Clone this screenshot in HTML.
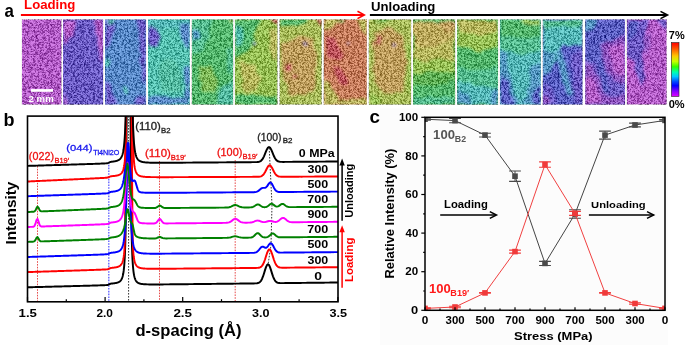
<!DOCTYPE html>
<html><head><meta charset="utf-8"><style>html,body{margin:0;padding:0;background:#fff;width:685px;height:345px;overflow:hidden}</style></head>
<body><svg xmlns="http://www.w3.org/2000/svg" width="685" height="345" viewBox="0 0 685 345" style="display:block">
<defs>
<filter id="blr" x="-20%" y="-20%" width="140%" height="140%"><feTurbulence type="fractalNoise" baseFrequency="0.12" numOctaves="2" seed="3" result="t"/><feDisplacementMap in="SourceGraphic" in2="t" scale="6" xChannelSelector="R" yChannelSelector="G"/><feGaussianBlur stdDeviation="1.8"/></filter>
<filter id="spk" x="0" y="0" width="685" height="120" filterUnits="userSpaceOnUse" color-interpolation-filters="sRGB">
 <feTurbulence type="fractalNoise" baseFrequency="0.45" numOctaves="2" seed="3" result="a"/>
 <feColorMatrix in="a" type="matrix" values="2.2 0 0 0 -0.25  2.2 0 0 0 -0.25  2.2 0 0 0 -0.25  0 0 0 0 1" result="g1"/>
 <feTurbulence type="fractalNoise" baseFrequency="1.3" numOctaves="1" seed="9" result="c"/>
 <feColorMatrix in="c" type="matrix" values="7.0 0 0 0 -2.4  7.0 0 0 0 -2.4  7.0 0 0 0 -2.4  0 0 0 0 1" result="g2"/>
 <feComponentTransfer in="g2" result="g2b"><feFuncR type="linear" slope="0.6" intercept="0.4"/><feFuncG type="linear" slope="0.6" intercept="0.4"/><feFuncB type="linear" slope="0.6" intercept="0.4"/></feComponentTransfer>
 <feComposite in="g1" in2="g2b" operator="arithmetic" k1="1" k2="0" k3="0" k4="0"/>
 <feComponentTransfer><feFuncR type="linear" slope="0.85"/><feFuncG type="linear" slope="0.85"/><feFuncB type="linear" slope="0.85"/><feFuncA type="linear" slope="0" intercept="1"/></feComponentTransfer>
</filter>
<linearGradient id="cbar" x1="0" y1="0" x2="0" y2="1">
 <stop offset="0" stop-color="#ff0000"/><stop offset="0.12" stop-color="#ff5a00"/><stop offset="0.25" stop-color="#ffc800"/>
 <stop offset="0.35" stop-color="#c8ff00"/><stop offset="0.45" stop-color="#30ff00"/><stop offset="0.55" stop-color="#00ffb0"/>
 <stop offset="0.63" stop-color="#00c8ff"/><stop offset="0.72" stop-color="#0050ff"/><stop offset="0.8" stop-color="#0000ff"/>
 <stop offset="0.9" stop-color="#8000ff"/><stop offset="1" stop-color="#e000ff"/>
</linearGradient>
</defs>
<rect x="0" y="0" width="685" height="345" fill="#fff"/>
<rect x="380" y="108.3" width="288" height="237" fill="#fcfcfc"/>
<defs><clipPath id="pc0"><rect x="21.9" y="19.3" width="39.7" height="85.4"/></clipPath><clipPath id="pc1"><rect x="63.0" y="19.3" width="40.2" height="85.4"/></clipPath><clipPath id="pc2"><rect x="105.0" y="19.3" width="41.1" height="85.4"/></clipPath><clipPath id="pc3"><rect x="148.0" y="19.3" width="41.9" height="85.4"/></clipPath><clipPath id="pc4"><rect x="191.7" y="19.3" width="41.5" height="85.4"/></clipPath><clipPath id="pc5"><rect x="234.9" y="19.3" width="42.7" height="85.4"/></clipPath><clipPath id="pc6"><rect x="279.4" y="19.3" width="42.4" height="85.4"/></clipPath><clipPath id="pc7"><rect x="323.6" y="19.3" width="43.3" height="85.4"/></clipPath><clipPath id="pc8"><rect x="368.7" y="19.3" width="42.5" height="85.4"/></clipPath><clipPath id="pc9"><rect x="413.0" y="19.3" width="42.2" height="85.4"/></clipPath><clipPath id="pc10"><rect x="457.0" y="19.3" width="41.1" height="85.4"/></clipPath><clipPath id="pc11"><rect x="499.9" y="19.3" width="41.0" height="85.4"/></clipPath><clipPath id="pc12"><rect x="542.6" y="19.3" width="40.1" height="85.4"/></clipPath><clipPath id="pc13"><rect x="585.1" y="19.3" width="40.0" height="85.4"/></clipPath><clipPath id="pc14"><rect x="626.8" y="19.3" width="40.0" height="85.4"/></clipPath><clipPath id="pall"><rect x="21.9" y="19.3" width="39.7" height="85.4"/><rect x="63.0" y="19.3" width="40.2" height="85.4"/><rect x="105.0" y="19.3" width="41.1" height="85.4"/><rect x="148.0" y="19.3" width="41.9" height="85.4"/><rect x="191.7" y="19.3" width="41.5" height="85.4"/><rect x="234.9" y="19.3" width="42.7" height="85.4"/><rect x="279.4" y="19.3" width="42.4" height="85.4"/><rect x="323.6" y="19.3" width="43.3" height="85.4"/><rect x="368.7" y="19.3" width="42.5" height="85.4"/><rect x="413.0" y="19.3" width="42.2" height="85.4"/><rect x="457.0" y="19.3" width="41.1" height="85.4"/><rect x="499.9" y="19.3" width="41.0" height="85.4"/><rect x="542.6" y="19.3" width="40.1" height="85.4"/><rect x="585.1" y="19.3" width="40.0" height="85.4"/><rect x="626.8" y="19.3" width="40.0" height="85.4"/></clipPath></defs>
<g clip-path="url(#pall)"><rect x="0" y="0" width="685" height="120" fill="#000" filter="url(#spk)"/><g opacity="0.45">
<g clip-path="url(#pc0)"><rect x="21.9" y="19.3" width="39.7" height="85.4" fill="#cf12fb"/></g>
<g clip-path="url(#pc1)"><rect x="63.0" y="19.3" width="40.2" height="85.4" fill="#3410f6"/><g filter="url(#blr)"><polygon points="63.0,19.3 75.9,19.3 75.1,27.8 71.8,36.4 67.0,42.4 63.0,44.9" fill="#cf12fb"/><polygon points="93.2,19.3 103.2,19.3 103.2,60.3 99.2,57.7 97.6,36.4 95.2,26.1" fill="#cf12fb"/><polygon points="63.0,94.5 67.0,100.4 67.8,104.7 63.0,104.7" fill="#cf12fb"/></g></g>
<g clip-path="url(#pc2)"><rect x="105.0" y="19.3" width="41.1" height="85.4" fill="#0771fb"/><g filter="url(#blr)"><polygon points="105.0,19.3 115.3,19.3 114.0,32.1 109.9,44.9 105.0,49.2" fill="#3410f6"/><polygon points="137.1,19.3 146.1,19.3 146.1,85.9 142.8,79.1 139.9,53.5 138.7,32.1" fill="#3410f6"/><polygon points="105.0,80.8 109.9,83.4 113.2,91.9 117.3,104.7 105.0,104.7" fill="#3410f6"/><polygon points="135.8,97.9 146.1,94.5 146.1,104.7 133.8,104.7" fill="#3410f6"/><polygon points="105.8,57.7 109.9,60.3 109.1,67.1 105.8,66.3" fill="#00e9c6"/><polygon points="123.5,87.6 127.6,87.6 128.0,92.7 123.9,93.6" fill="#00e9c6"/><polygon points="108.3,19.3 114.0,19.3 113.2,24.4 109.1,24.4" fill="#00e9c6"/></g></g>
<g clip-path="url(#pc3)"><rect x="148.0" y="19.3" width="41.9" height="85.4" fill="#00e9c6"/><g filter="url(#blr)"><polygon points="148.0,19.3 189.9,19.3 189.9,27.8 148.0,29.5" fill="#00d8d8"/><polygon points="148.0,26.1 156.4,27.8 160.6,36.4 158.5,44.9 148.0,46.6" fill="#3410f6"/><polygon points="179.4,23.6 189.9,23.6 189.9,49.2 183.6,44.9" fill="#0771fb"/><polygon points="160.6,57.7 179.4,62.0 181.5,91.9 162.7,91.9 158.5,70.5" fill="#00e0a8"/><polygon points="183.6,66.3 189.9,66.3 189.9,97.9 185.7,96.2" fill="#0771fb"/><polygon points="148.0,96.2 189.9,97.9 189.9,104.7 148.0,104.7" fill="#0771fb"/></g></g>
<g clip-path="url(#pc4)"><rect x="191.7" y="19.3" width="41.5" height="85.4" fill="#00d838"/><g filter="url(#blr)"><polygon points="191.7,19.3 212.4,19.3 208.3,36.4 204.1,49.2 191.7,53.5" fill="#00e182"/><polygon points="191.7,29.5 199.2,30.4 200.0,38.1 191.7,40.7" fill="#0090f0"/><polygon points="197.9,66.3 212.4,66.3 217.4,83.4 214.5,92.7 202.1,91.9" fill="#60e010"/><polygon points="227.0,49.2 233.2,47.5 233.2,74.8 228.2,72.2" fill="#00e182"/><polygon points="220.8,87.6 233.2,80.8 233.2,104.7 216.6,104.7" fill="#00e0a8"/><polygon points="227.0,19.3 233.2,19.3 233.2,24.4" fill="#d8d814"/></g></g>
<g clip-path="url(#pc5)"><rect x="234.9" y="19.3" width="42.7" height="85.4" fill="#90e902"/><g filter="url(#blr)"><polygon points="234.9,19.3 260.5,19.3 254.1,36.4 249.8,49.2 234.9,57.7" fill="#00d838"/><polygon points="234.9,23.6 243.4,27.8 241.3,44.9 234.9,44.9" fill="#00e9c6"/><polygon points="239.2,62.0 254.1,63.7 260.5,79.1 256.2,91.9 243.4,91.9" fill="#d8d814"/><polygon points="269.1,27.8 277.6,27.8 277.6,62.0 271.2,57.7" fill="#d8d814"/><polygon points="271.2,19.3 277.6,19.3 277.6,25.3" fill="#e90014"/><polygon points="234.9,94.5 277.6,96.2 277.6,104.7 234.9,104.7" fill="#00d838"/><polygon points="253.3,41.5 255.8,41.5 255.8,44.9 253.3,44.9" fill="#0814f0"/></g></g>
<g clip-path="url(#pc6)"><rect x="279.4" y="19.3" width="42.4" height="85.4" fill="#b4e00c"/><g filter="url(#blr)"><polygon points="279.4,19.3 309.1,19.3 300.6,24.4 279.4,26.1" fill="#00d838"/><polygon points="281.9,43.2 298.5,36.4 313.3,38.1 316.7,57.7 315.4,87.6 304.8,96.2 290.0,94.5 281.9,70.5" fill="#e9a214"/><polygon points="285.8,63.7 292.1,64.6 291.3,70.5 285.8,70.5" fill="#e90014"/><polygon points="293.0,73.1 298.5,74.8 296.4,79.1 292.1,77.4" fill="#e90014"/><polygon points="316.7,19.3 321.8,19.3 321.8,27.8" fill="#e90014"/><polygon points="302.7,42.4 304.8,42.4 304.8,45.8 302.7,45.8" fill="#0814f0"/></g></g>
<g clip-path="url(#pc7)"><rect x="323.6" y="19.3" width="43.3" height="85.4" fill="#fb5b14"/><g filter="url(#blr)"><polygon points="325.8,36.4 334.4,38.1 343.1,55.2 340.9,60.3 327.9,57.7" fill="#e90014"/><polygon points="332.3,66.3 338.8,66.3 347.4,77.4 347.4,84.2 338.8,83.4 333.1,72.2" fill="#e90014"/><polygon points="323.6,19.3 340.9,19.3 332.3,26.1 323.6,29.5" fill="#d8d814"/><polygon points="332.3,19.3 345.2,19.3 340.9,21.9" fill="#14c600"/><polygon points="356.1,19.3 366.9,19.3 366.9,36.4" fill="#d8d814"/><polygon points="323.6,79.1 330.1,83.4 338.8,97.9 336.6,104.7 323.6,104.7" fill="#d8d814"/><polygon points="336.6,100.4 366.9,98.7 366.9,104.7 336.6,104.7" fill="#d8d814"/><polygon points="347.4,42.4 349.6,42.4 349.6,45.8 347.4,45.8" fill="#0814f0"/></g></g>
<g clip-path="url(#pc8)"><rect x="368.7" y="19.3" width="42.5" height="85.4" fill="#b4e00c"/><g filter="url(#blr)"><polygon points="373.8,32.1 389.9,27.8 402.7,36.4 406.9,62.0 402.7,91.9 385.7,94.5 375.1,83.4 372.9,53.5" fill="#e9a214"/><polygon points="375.1,34.7 381.4,36.4 380.6,44.9 375.1,44.9" fill="#e90014"/><polygon points="406.9,44.9 411.2,44.9 411.2,96.2 407.8,91.9" fill="#90e902"/><polygon points="368.7,91.9 381.4,97.9 381.4,104.7 368.7,104.7" fill="#90e902"/><polygon points="368.7,19.3 394.2,19.3 385.7,21.9" fill="#14c600"/><polygon points="392.1,42.4 394.2,42.4 394.2,45.8 392.1,45.8" fill="#0814f0"/></g></g>
<g clip-path="url(#pc9)"><rect x="413.0" y="19.3" width="42.2" height="85.4" fill="#14c600"/><g filter="url(#blr)"><polygon points="413.0,21.9 455.2,21.9 455.2,62.0 438.3,57.7 425.7,62.0 413.0,57.7" fill="#d8d814"/><polygon points="413.0,21.9 455.2,21.9 455.2,38.1 438.3,44.9 425.7,47.5 413.0,44.9" fill="#e4bc14"/><polygon points="436.2,21.9 455.2,21.9 455.2,29.5 444.6,32.1" fill="#e9a214"/><polygon points="448.9,21.0 455.2,21.0 455.2,26.1" fill="#e90014"/><polygon points="413.0,19.3 455.2,19.3 455.2,21.9 413.0,21.9" fill="#00d838"/><polygon points="413.0,57.7 425.7,62.0 438.3,57.7 455.2,62.0 455.2,72.2 434.1,70.5 413.0,74.8" fill="#90e902"/><polygon points="413.0,83.4 429.9,87.6 455.2,80.8 455.2,96.2 413.0,100.4" fill="#00d838"/><polygon points="413.0,97.9 455.2,96.2 455.2,104.7 413.0,104.7" fill="#00e182"/></g></g>
<g clip-path="url(#pc10)"><rect x="457.0" y="19.3" width="41.1" height="85.4" fill="#00d838"/><g filter="url(#blr)"><polygon points="457.0,19.3 498.1,19.3 498.1,46.6 477.6,51.8 457.0,44.9" fill="#90e902"/><polygon points="457.0,21.0 498.1,21.0 498.1,32.1 477.6,34.7 457.0,31.3" fill="#d8d814"/><polygon points="457.0,19.3 498.1,19.3 498.1,21.0 457.0,21.0" fill="#14c600"/><polygon points="457.0,66.3 477.6,70.5 498.1,66.3 498.1,91.9 457.0,91.9" fill="#00e182"/><polygon points="457.0,80.8 477.6,85.9 494.0,87.6 498.1,91.9 498.1,104.7 457.0,104.7" fill="#00d8d8"/><polygon points="457.0,89.3 467.3,94.5 473.4,104.7 457.0,104.7" fill="#0090f0"/><polygon points="491.9,91.9 498.1,87.6 498.1,104.7 489.9,104.7" fill="#0090f0"/></g></g>
<g clip-path="url(#pc11)"><rect x="499.9" y="19.3" width="41.0" height="85.4" fill="#00d8d8"/><g filter="url(#blr)"><polygon points="499.9,19.3 540.9,19.3 540.9,40.7 524.5,44.9 512.2,43.2 499.9,40.7" fill="#00d838"/><polygon points="520.4,19.3 540.9,19.3 540.9,24.4 524.5,23.6" fill="#90e902"/><polygon points="499.9,36.4 540.9,38.1 540.9,51.8 520.4,53.5 499.9,49.2" fill="#00e182"/><polygon points="499.9,49.2 506.0,53.5 508.1,70.5 514.2,91.9 520.4,104.7 499.9,104.7" fill="#0090f0"/><polygon points="499.9,72.2 508.1,79.1 512.2,96.2 516.3,104.7 499.9,104.7" fill="#0814f0"/><polygon points="530.6,66.3 540.9,62.0 540.9,104.7 522.4,104.7 528.6,87.6" fill="#0090f0"/><polygon points="534.8,87.6 540.9,83.4 540.9,104.7 530.6,104.7" fill="#0814f0"/></g></g>
<g clip-path="url(#pc12)"><rect x="542.6" y="19.3" width="40.1" height="85.4" fill="#0814f0"/><g filter="url(#blr)"><polygon points="542.6,19.3 582.7,19.3 582.7,44.9 570.7,46.6 562.7,44.9 556.6,57.7 550.6,70.5 542.6,72.2" fill="#00d8d8"/><polygon points="542.6,19.3 582.7,19.3 582.7,26.1 542.6,27.8" fill="#00e182"/><polygon points="542.6,49.2 554.6,53.5 550.6,72.2 542.6,77.4" fill="#0090f0"/><polygon points="555.4,51.8 562.7,49.2 566.7,70.5 572.7,91.9 567.5,96.2 560.6,74.8" fill="#0090f0"/><polygon points="570.7,53.5 582.7,49.2 582.7,104.7 574.7,104.7 572.7,79.1" fill="#3410f6"/><polygon points="542.6,83.4 552.6,87.6 556.6,104.7 542.6,104.7" fill="#3410f6"/><polygon points="542.6,96.2 548.6,97.9 550.6,104.7 542.6,104.7" fill="#7f00e9"/></g></g>
<g clip-path="url(#pc13)"><rect x="585.1" y="19.3" width="40.0" height="85.4" fill="#3410f6"/><g filter="url(#blr)"><polygon points="585.1,19.3 625.1,19.3 625.1,36.4 609.1,40.7 599.1,62.0 585.1,62.0" fill="#0814f0"/><polygon points="585.1,19.3 597.1,19.3 593.1,27.8 585.1,32.1" fill="#0090f0"/><polygon points="601.1,43.2 613.1,40.7 625.1,36.4 625.1,83.4 613.1,80.8 605.1,66.3" fill="#7f00e9"/><polygon points="609.1,46.6 625.1,44.9 625.1,74.8 615.1,72.2" fill="#cf12fb"/><polygon points="585.1,62.0 593.1,66.3 599.1,79.1 607.1,96.2 617.1,96.2 625.1,91.9 625.1,104.7 585.1,104.7" fill="#7f00e9"/><polygon points="585.1,74.8 593.1,79.1 601.1,100.4 585.1,104.7" fill="#cf12fb"/><polygon points="595.1,49.2 601.1,49.2 605.1,70.5 609.1,91.9 603.1,94.5 597.1,66.3" fill="#0814f0"/></g></g>
<g clip-path="url(#pc14)"><rect x="626.8" y="19.3" width="40.0" height="85.4" fill="#cf12fb"/><g filter="url(#blr)"><polygon points="626.8,19.3 648.8,19.3 644.8,40.7 642.0,57.7 644.8,79.1 640.8,85.9 634.8,62.0 626.8,57.7" fill="#3410f6"/><polygon points="626.8,19.3 638.8,19.3 634.8,36.4 626.8,40.7" fill="#0814f0"/><polygon points="644.8,36.4 650.8,32.1 648.8,53.5 644.8,57.7" fill="#7f00e9"/><polygon points="654.8,19.3 666.8,19.3 666.8,29.5" fill="#3410f6"/></g></g>
</g></g>
<rect x="31" y="89.1" width="22" height="2.7" fill="#fff"/>
<line x1="20.9" y1="14.9" x2="364" y2="14.9" stroke="#ff0000" stroke-width="2"/>
<polyline points="357.5,11.2 364.3,14.9 357.5,18.6" fill="none" stroke="#ff0000" stroke-width="1.6"/>
<line x1="369.9" y1="14.9" x2="667" y2="14.9" stroke="#000" stroke-width="2"/>
<polyline points="660.5,11.4 667.5,15 660.5,18.6" fill="none" stroke="#000" stroke-width="1.6"/>
<rect x="671.4" y="42.6" width="7.6" height="53.8" fill="url(#cbar)" stroke="#222" stroke-width="0.6"/>
<defs><clipPath id="bclip"><rect x="27.5" y="116.1" width="310.5" height="185.7"/></clipPath></defs>
<g clip-path="url(#bclip)">
<line x1="37.5" y1="166" x2="37.5" y2="301" stroke="#e02020" stroke-width="0.8" stroke-dasharray="1.6,1.2"/>
<line x1="108.8" y1="162" x2="108.8" y2="301" stroke="#5a5aff" stroke-width="1.3" stroke-dasharray="1.6,1.2"/>
<line x1="159.5" y1="161" x2="159.5" y2="301" stroke="#e02020" stroke-width="0.8" stroke-dasharray="1.6,1.2"/>
<line x1="235.2" y1="160" x2="235.2" y2="301" stroke="#e02020" stroke-width="0.8" stroke-dasharray="1.6,1.2"/>
<line x1="128.6" y1="116" x2="128.6" y2="301" stroke="#000" stroke-width="0.8" stroke-dasharray="1.6,1.4"/>
<polyline points="269.2,148 272,205 271,245 268,265" fill="none" stroke="#000" stroke-width="0.8" stroke-dasharray="1.6,1.4"/>
<path d="M27.50,287.30 L28.50,287.27 L29.50,287.25 L30.50,287.22 L31.50,287.19 L32.50,287.17 L33.50,287.14 L34.50,287.12 L35.50,287.09 L36.50,287.06 L37.50,287.04 L38.50,287.01 L39.50,286.98 L40.50,286.96 L41.50,286.93 L42.50,286.91 L43.50,286.88 L44.50,286.85 L45.50,286.83 L46.50,286.80 L47.50,286.78 L48.50,286.75 L49.50,286.72 L50.50,286.70 L51.50,286.67 L52.50,286.64 L53.50,286.62 L54.50,286.59 L55.50,286.57 L56.50,286.54 L57.50,286.51 L58.50,286.49 L59.50,286.46 L60.50,286.43 L61.50,286.41 L62.50,286.38 L63.50,286.36 L64.50,286.33 L65.50,286.30 L66.50,286.28 L67.50,286.25 L68.50,286.22 L69.50,286.20 L70.50,286.17 L71.50,286.14 L72.50,286.12 L73.50,286.09 L74.50,286.06 L75.50,286.04 L76.50,286.01 L77.50,285.98 L78.50,285.96 L79.50,285.93 L80.50,285.90 L81.50,285.88 L82.50,285.85 L83.50,285.82 L84.50,285.79 L85.50,285.77 L86.50,285.74 L87.50,285.71 L88.50,285.68 L89.50,285.66 L90.50,285.63 L91.50,285.60 L92.50,285.57 L93.50,285.54 L94.50,285.51 L95.50,285.48 L96.50,285.45 L97.50,285.42 L98.50,285.39 L99.50,285.36 L100.50,285.32 L101.50,285.29 L102.50,285.25 L103.50,285.22 L104.50,285.18 L105.50,285.13 L106.50,285.06 L107.50,284.94 L108.50,284.65 L109.50,284.16 L110.50,283.77 L110.75,283.70 L111.00,283.65 L111.25,283.61 L111.50,283.57 L111.75,283.54 L112.00,283.51 L112.25,283.49 L112.50,283.46 L112.75,283.43 L113.00,283.41 L113.25,283.38 L113.50,283.35 L113.75,283.33 L114.00,283.30 L114.25,283.26 L114.50,283.23 L114.75,283.20 L115.00,283.16 L115.25,283.12 L115.50,283.08 L115.75,283.03 L116.00,282.98 L116.25,282.93 L116.50,282.87 L116.75,282.81 L117.00,282.74 L117.25,282.67 L117.50,282.59 L117.75,282.51 L118.00,282.41 L118.25,282.31 L118.50,282.20 L118.75,282.07 L119.00,281.94 L119.25,281.79 L119.50,281.62 L119.75,281.44 L120.00,281.23 L120.25,281.00 L120.50,280.74 L120.75,280.45 L121.00,280.11 L121.25,279.74 L121.50,279.30 L121.75,278.81 L122.00,278.24 L122.25,277.58 L122.50,276.81 L122.75,275.90 L123.00,274.83 L123.25,273.56 L123.50,272.04 L123.75,270.20 L124.00,267.95 L124.25,265.18 L124.50,261.73 L124.75,257.37 L125.00,251.79 L125.25,244.56 L125.50,235.00 L125.75,222.12 L126.00,204.42 L126.25,179.47 L126.50,143.36 L126.75,100.00 L127.00,100.00 L127.25,100.00 L127.50,100.00 L127.75,100.00 L128.00,100.00 L128.25,100.00 L128.50,100.00 L128.75,100.00 L129.00,100.00 L129.25,100.00 L129.50,100.00 L129.75,100.00 L130.00,100.00 L130.25,100.00 L130.50,102.76 L130.75,152.42 L131.00,185.93 L131.25,209.21 L131.50,225.83 L131.75,237.97 L132.00,247.03 L132.25,253.91 L132.50,259.23 L132.75,263.40 L133.00,266.72 L133.25,269.39 L133.50,271.56 L133.75,273.34 L134.00,274.82 L134.25,276.05 L134.50,277.09 L134.75,277.97 L135.00,278.72 L135.25,279.36 L135.50,279.92 L135.75,280.40 L136.00,280.82 L136.25,281.18 L136.50,281.50 L136.75,281.79 L137.00,282.04 L137.25,282.26 L137.50,282.46 L137.75,282.64 L138.00,282.80 L138.25,282.94 L138.50,283.07 L138.75,283.18 L139.00,283.29 L139.25,283.38 L139.50,283.47 L139.75,283.54 L140.00,283.61 L140.25,283.68 L140.50,283.74 L140.75,283.80 L141.00,283.85 L141.25,283.89 L141.50,283.93 L141.75,283.97 L142.00,284.01 L142.25,284.04 L142.50,284.07 L142.75,284.10 L143.00,284.13 L143.25,284.15 L143.50,284.18 L143.75,284.20 L144.00,284.22 L144.25,284.23 L144.50,284.25 L144.75,284.27 L145.00,284.28 L146.00,284.33 L147.00,284.37 L148.00,284.39 L149.00,284.41 L150.00,284.43 L151.00,284.44 L152.00,284.44 L153.00,284.45 L154.00,284.45 L155.00,284.45 L156.00,284.44 L157.00,284.44 L158.00,284.44 L159.00,284.43 L160.00,284.43 L161.00,284.42 L162.00,284.41 L163.00,284.41 L164.00,284.40 L165.00,284.39 L166.00,284.38 L167.00,284.37 L168.00,284.36 L169.00,284.35 L170.00,284.34 L171.00,284.33 L172.00,284.32 L173.00,284.32 L174.00,284.31 L175.00,284.30 L176.00,284.28 L177.00,284.27 L178.00,284.26 L179.00,284.25 L180.00,284.24 L181.00,284.23 L182.00,284.22 L183.00,284.21 L184.00,284.20 L185.00,284.19 L186.00,284.18 L187.00,284.17 L188.00,284.16 L189.00,284.15 L190.00,284.14 L191.00,284.13 L192.00,284.12 L193.00,284.11 L194.00,284.09 L195.00,284.08 L196.00,284.07 L197.00,284.06 L198.00,284.05 L199.00,284.04 L200.00,284.03 L201.00,284.02 L202.00,284.01 L203.00,284.00 L204.00,283.99 L205.00,283.97 L206.00,283.96 L207.00,283.95 L208.00,283.94 L209.00,283.93 L210.00,283.92 L211.00,283.91 L212.00,283.90 L213.00,283.89 L214.00,283.88 L215.00,283.86 L216.00,283.85 L217.00,283.84 L218.00,283.83 L219.00,283.82 L220.00,283.81 L221.00,283.80 L222.00,283.79 L223.00,283.78 L224.00,283.76 L225.00,283.75 L226.00,283.74 L227.00,283.73 L228.00,283.72 L229.00,283.71 L230.00,283.70 L231.00,283.69 L232.00,283.68 L233.00,283.67 L234.00,283.65 L235.00,283.64 L236.00,283.63 L237.00,283.62 L238.00,283.61 L239.00,283.60 L240.00,283.59 L241.00,283.58 L242.00,283.57 L243.00,283.55 L244.00,283.54 L245.00,283.53 L246.00,283.52 L247.00,283.51 L248.00,283.50 L249.00,283.49 L250.00,283.48 L251.00,283.47 L252.00,283.45 L253.00,283.44 L254.00,283.43 L255.00,283.40 L256.00,283.36 L257.00,283.26 L258.00,283.07 L259.00,282.68 L260.00,281.97 L261.00,280.78 L262.00,278.97 L263.00,276.48 L264.00,273.43 L265.00,270.15 L266.00,267.16 L267.00,265.05 L268.00,264.28 L269.00,265.03 L270.00,267.12 L271.00,270.09 L272.00,273.34 L273.00,276.37 L274.00,278.84 L275.00,280.63 L276.00,281.79 L277.00,282.48 L278.00,282.85 L279.00,283.02 L280.00,283.09 L281.00,283.11 L282.00,283.12 L283.00,283.11 L284.00,283.10 L285.00,283.09 L286.00,283.08 L287.00,283.07 L288.00,283.06 L289.00,283.04 L290.00,283.03 L291.00,283.02 L292.00,283.01 L293.00,283.00 L294.00,282.99 L295.00,282.98 L296.00,282.97 L297.00,282.96 L298.00,282.94 L299.00,282.93 L300.00,282.92 L301.00,282.91 L302.00,282.90 L303.00,282.89 L304.00,282.88 L305.00,282.87 L306.00,282.86 L307.00,282.84 L308.00,282.83 L309.00,282.82 L310.00,282.81 L311.00,282.80 L312.00,282.79 L313.00,282.78 L314.00,282.77 L315.00,282.76 L316.00,282.74 L317.00,282.73 L318.00,282.72 L319.00,282.71 L320.00,282.70 L321.00,282.69 L322.00,282.68 L323.00,282.67 L324.00,282.66 L325.00,282.64 L326.00,282.63 L327.00,282.62 L328.00,282.61 L329.00,282.60 L330.00,282.59 L331.00,282.58 L332.00,282.57 L333.00,282.56 L334.00,282.54 L335.00,282.53 L336.00,282.52 L337.00,282.51 L338.00,282.50" fill="none" stroke="#000" stroke-width="1.95" stroke-linejoin="round"/>
<path d="M27.50,272.10 L28.50,272.07 L29.50,272.03 L30.50,272.00 L31.50,271.97 L32.50,271.94 L33.50,271.90 L34.50,271.87 L35.50,271.84 L36.50,271.81 L37.50,271.77 L38.50,271.74 L39.50,271.71 L40.50,271.68 L41.50,271.65 L42.50,271.61 L43.50,271.58 L44.50,271.55 L45.50,271.52 L46.50,271.48 L47.50,271.45 L48.50,271.42 L49.50,271.39 L50.50,271.35 L51.50,271.32 L52.50,271.29 L53.50,271.26 L54.50,271.22 L55.50,271.19 L56.50,271.16 L57.50,271.13 L58.50,271.09 L59.50,271.06 L60.50,271.03 L61.50,271.00 L62.50,270.96 L63.50,270.93 L64.50,270.90 L65.50,270.87 L66.50,270.83 L67.50,270.80 L68.50,270.77 L69.50,270.74 L70.50,270.70 L71.50,270.67 L72.50,270.64 L73.50,270.60 L74.50,270.57 L75.50,270.54 L76.50,270.51 L77.50,270.47 L78.50,270.44 L79.50,270.41 L80.50,270.37 L81.50,270.34 L82.50,270.31 L83.50,270.27 L84.50,270.24 L85.50,270.21 L86.50,270.17 L87.50,270.14 L88.50,270.11 L89.50,270.07 L90.50,270.04 L91.50,270.00 L92.50,269.97 L93.50,269.93 L94.50,269.90 L95.50,269.86 L96.50,269.82 L97.50,269.79 L98.50,269.75 L99.50,269.71 L100.50,269.67 L101.50,269.63 L102.50,269.59 L103.50,269.55 L104.50,269.50 L105.50,269.45 L106.50,269.38 L107.50,269.25 L108.50,268.95 L109.50,268.47 L110.50,268.08 L110.75,268.01 L111.00,267.96 L111.25,267.92 L111.50,267.89 L111.75,267.85 L112.00,267.83 L112.25,267.80 L112.50,267.77 L112.75,267.75 L113.00,267.73 L113.25,267.70 L113.50,267.67 L113.75,267.65 L114.00,267.62 L114.25,267.59 L114.50,267.56 L114.75,267.52 L115.00,267.49 L115.25,267.45 L115.50,267.41 L115.75,267.37 L116.00,267.32 L116.25,267.27 L116.50,267.22 L116.75,267.16 L117.00,267.10 L117.25,267.03 L117.50,266.96 L117.75,266.88 L118.00,266.80 L118.25,266.70 L118.50,266.60 L118.75,266.49 L119.00,266.36 L119.25,266.23 L119.50,266.08 L119.75,265.91 L120.00,265.73 L120.25,265.52 L120.50,265.29 L120.75,265.03 L121.00,264.74 L121.25,264.41 L121.50,264.03 L121.75,263.60 L122.00,263.11 L122.25,262.55 L122.50,261.89 L122.75,261.13 L123.00,260.24 L123.25,259.19 L123.50,257.95 L123.75,256.47 L124.00,254.67 L124.25,252.37 L124.50,248.81 L124.75,241.99 L125.00,228.88 L125.25,207.57 L125.50,179.14 L125.75,146.96 L126.00,114.26 L126.25,100.00 L126.50,100.00 L126.75,100.00 L127.00,100.00 L127.25,100.00 L127.50,100.00 L127.75,100.00 L128.00,100.00 L128.25,100.00 L128.50,100.00 L128.75,100.00 L129.00,100.00 L129.25,100.00 L129.50,100.00 L129.75,100.00 L130.00,100.00 L130.25,100.00 L130.50,100.00 L130.75,100.00 L131.00,100.00 L131.25,100.00 L131.50,102.17 L131.75,134.62 L132.00,167.35 L132.25,197.76 L132.50,222.24 L132.75,238.57 L133.00,247.56 L133.25,252.12 L133.50,254.79 L133.75,256.76 L134.00,258.36 L134.25,259.70 L134.50,260.83 L134.75,261.79 L135.00,262.60 L135.25,263.30 L135.50,263.90 L135.75,264.42 L136.00,264.87 L136.25,265.26 L136.50,265.61 L136.75,265.91 L137.00,266.18 L137.25,266.42 L137.50,266.63 L137.75,266.82 L138.00,266.99 L138.25,267.14 L138.50,267.28 L138.75,267.40 L139.00,267.52 L139.25,267.62 L139.50,267.71 L139.75,267.79 L140.00,267.86 L140.25,267.93 L140.50,268.00 L140.75,268.06 L141.00,268.11 L141.25,268.16 L141.50,268.21 L141.75,268.25 L142.00,268.29 L142.25,268.32 L142.50,268.36 L142.75,268.39 L143.00,268.42 L143.25,268.44 L143.50,268.47 L143.75,268.49 L144.00,268.51 L144.25,268.53 L144.50,268.55 L144.75,268.56 L145.00,268.58 L146.00,268.63 L147.00,268.67 L148.00,268.70 L149.00,268.72 L150.00,268.74 L151.00,268.75 L152.00,268.76 L153.00,268.77 L154.00,268.77 L155.00,268.77 L156.00,268.78 L157.00,268.77 L158.00,268.77 L159.00,268.77 L160.00,268.77 L161.00,268.76 L162.00,268.76 L163.00,268.75 L164.00,268.75 L165.00,268.74 L166.00,268.73 L167.00,268.73 L168.00,268.72 L169.00,268.71 L170.00,268.70 L171.00,268.70 L172.00,268.69 L173.00,268.68 L174.00,268.67 L175.00,268.67 L176.00,268.66 L177.00,268.65 L178.00,268.64 L179.00,268.63 L180.00,268.62 L181.00,268.62 L182.00,268.61 L183.00,268.60 L184.00,268.59 L185.00,268.58 L186.00,268.57 L187.00,268.56 L188.00,268.56 L189.00,268.55 L190.00,268.54 L191.00,268.53 L192.00,268.52 L193.00,268.51 L194.00,268.50 L195.00,268.49 L196.00,268.49 L197.00,268.48 L198.00,268.47 L199.00,268.46 L200.00,268.45 L201.00,268.44 L202.00,268.43 L203.00,268.42 L204.00,268.41 L205.00,268.41 L206.00,268.40 L207.00,268.39 L208.00,268.38 L209.00,268.37 L210.00,268.36 L211.00,268.35 L212.00,268.34 L213.00,268.33 L214.00,268.32 L215.00,268.32 L216.00,268.31 L217.00,268.30 L218.00,268.29 L219.00,268.28 L220.00,268.27 L221.00,268.26 L222.00,268.25 L223.00,268.24 L224.00,268.23 L225.00,268.23 L226.00,268.22 L227.00,268.21 L228.00,268.20 L229.00,268.19 L230.00,268.18 L231.00,268.17 L232.00,268.16 L233.00,268.15 L234.00,268.14 L235.00,268.14 L236.00,268.13 L237.00,268.12 L238.00,268.11 L239.00,268.10 L240.00,268.09 L241.00,268.08 L242.00,268.07 L243.00,268.06 L244.00,268.05 L245.00,268.04 L246.00,268.04 L247.00,268.03 L248.00,268.02 L249.00,268.01 L250.00,268.00 L251.00,267.99 L252.00,267.98 L253.00,267.97 L254.00,267.96 L255.00,267.95 L256.00,267.93 L257.00,267.90 L258.00,267.83 L259.00,267.69 L260.00,267.41 L261.00,266.86 L262.00,265.91 L263.00,264.40 L264.00,262.25 L265.00,259.47 L266.00,256.31 L267.00,253.22 L268.00,250.76 L269.00,249.45 L270.00,249.59 L271.00,251.14 L272.00,253.76 L273.00,256.89 L274.00,259.98 L275.00,262.63 L276.00,264.64 L277.00,266.00 L278.00,266.84 L279.00,267.31 L280.00,267.54 L281.00,267.64 L282.00,267.68 L283.00,267.69 L284.00,267.69 L285.00,267.68 L286.00,267.67 L287.00,267.66 L288.00,267.65 L289.00,267.65 L290.00,267.64 L291.00,267.63 L292.00,267.62 L293.00,267.61 L294.00,267.60 L295.00,267.59 L296.00,267.58 L297.00,267.57 L298.00,267.56 L299.00,267.55 L300.00,267.55 L301.00,267.54 L302.00,267.53 L303.00,267.52 L304.00,267.51 L305.00,267.50 L306.00,267.49 L307.00,267.48 L308.00,267.47 L309.00,267.46 L310.00,267.45 L311.00,267.45 L312.00,267.44 L313.00,267.43 L314.00,267.42 L315.00,267.41 L316.00,267.40 L317.00,267.39 L318.00,267.38 L319.00,267.37 L320.00,267.36 L321.00,267.35 L322.00,267.35 L323.00,267.34 L324.00,267.33 L325.00,267.32 L326.00,267.31 L327.00,267.30 L328.00,267.29 L329.00,267.28 L330.00,267.27 L331.00,267.26 L332.00,267.25 L333.00,267.25 L334.00,267.24 L335.00,267.23 L336.00,267.22 L337.00,267.21 L338.00,267.20" fill="none" stroke="#ff0000" stroke-width="1.95" stroke-linejoin="round"/>
<path d="M27.50,257.00 L28.50,256.97 L29.50,256.93 L30.50,256.90 L31.50,256.87 L32.50,256.84 L33.50,256.80 L34.50,256.77 L35.50,256.74 L36.50,256.71 L37.50,256.67 L38.50,256.64 L39.50,256.61 L40.50,256.58 L41.50,256.55 L42.50,256.51 L43.50,256.48 L44.50,256.45 L45.50,256.42 L46.50,256.38 L47.50,256.35 L48.50,256.32 L49.50,256.29 L50.50,256.25 L51.50,256.22 L52.50,256.19 L53.50,256.16 L54.50,256.12 L55.50,256.09 L56.50,256.06 L57.50,256.03 L58.50,255.99 L59.50,255.96 L60.50,255.93 L61.50,255.90 L62.50,255.86 L63.50,255.83 L64.50,255.80 L65.50,255.77 L66.50,255.73 L67.50,255.70 L68.50,255.67 L69.50,255.64 L70.50,255.60 L71.50,255.57 L72.50,255.54 L73.50,255.50 L74.50,255.47 L75.50,255.44 L76.50,255.41 L77.50,255.37 L78.50,255.34 L79.50,255.31 L80.50,255.27 L81.50,255.24 L82.50,255.21 L83.50,255.17 L84.50,255.14 L85.50,255.11 L86.50,255.07 L87.50,255.04 L88.50,255.00 L89.50,254.97 L90.50,254.94 L91.50,254.90 L92.50,254.87 L93.50,254.83 L94.50,254.79 L95.50,254.76 L96.50,254.72 L97.50,254.68 L98.50,254.65 L99.50,254.61 L100.50,254.57 L101.50,254.53 L102.50,254.49 L103.50,254.44 L104.50,254.39 L105.50,254.34 L106.50,254.27 L107.50,254.14 L108.50,253.84 L109.50,253.35 L110.50,252.96 L110.75,252.90 L111.00,252.85 L111.25,252.80 L111.50,252.77 L111.75,252.73 L112.00,252.70 L112.25,252.68 L112.50,252.65 L112.75,252.62 L113.00,252.60 L113.25,252.57 L113.50,252.54 L113.75,252.51 L114.00,252.48 L114.25,252.45 L114.50,252.42 L114.75,252.38 L115.00,252.34 L115.25,252.30 L115.50,252.26 L115.75,252.21 L116.00,252.16 L116.25,252.11 L116.50,252.05 L116.75,251.99 L117.00,251.92 L117.25,251.85 L117.50,251.77 L117.75,251.69 L118.00,251.59 L118.25,251.49 L118.50,251.38 L118.75,251.26 L119.00,251.13 L119.25,250.98 L119.50,250.82 L119.75,250.64 L120.00,250.44 L120.25,250.22 L120.50,249.97 L120.75,249.70 L121.00,249.39 L121.25,249.04 L121.50,248.65 L121.75,248.20 L122.00,247.69 L122.25,247.11 L122.50,246.45 L122.75,245.69 L123.00,244.81 L123.25,243.79 L123.50,242.61 L123.75,241.23 L124.00,239.61 L124.25,237.71 L124.50,235.48 L124.75,232.83 L125.00,229.70 L125.25,225.99 L125.50,221.61 L125.75,216.45 L126.00,210.41 L126.25,203.42 L126.50,195.46 L126.75,186.63 L127.00,177.17 L127.25,167.53 L127.50,158.40 L127.75,150.67 L128.00,145.23 L128.25,142.85 L128.50,143.98 L128.75,148.37 L129.00,155.39 L129.25,164.15 L129.50,173.76 L129.75,183.43 L130.00,192.61 L130.25,200.99 L130.50,208.42 L130.75,214.88 L131.00,220.42 L131.25,225.14 L131.50,229.13 L131.75,232.51 L132.00,235.36 L132.25,237.77 L132.50,239.82 L132.75,241.56 L133.00,243.04 L133.25,244.31 L133.50,245.40 L133.75,246.34 L134.00,247.15 L134.25,247.85 L134.50,248.47 L134.75,249.01 L135.00,249.48 L135.25,249.89 L135.50,250.26 L135.75,250.58 L136.00,250.87 L136.25,251.12 L136.50,251.35 L136.75,251.56 L137.00,251.74 L137.25,251.90 L137.50,252.05 L137.75,252.18 L138.00,252.31 L138.25,252.42 L138.50,252.51 L138.75,252.60 L139.00,252.69 L139.25,252.76 L139.50,252.83 L139.75,252.89 L140.00,252.95 L140.25,253.00 L140.50,253.05 L140.75,253.10 L141.00,253.14 L141.25,253.18 L141.50,253.22 L141.75,253.25 L142.00,253.28 L142.25,253.31 L142.50,253.34 L142.75,253.36 L143.00,253.39 L143.25,253.41 L143.50,253.43 L143.75,253.45 L144.00,253.46 L144.25,253.48 L144.50,253.49 L144.75,253.51 L145.00,253.52 L146.00,253.56 L147.00,253.60 L148.00,253.62 L149.00,253.64 L150.00,253.66 L151.00,253.67 L152.00,253.67 L153.00,253.68 L154.00,253.68 L155.00,253.68 L156.00,253.68 L157.00,253.68 L158.00,253.68 L159.00,253.67 L160.00,253.67 L161.00,253.66 L162.00,253.66 L163.00,253.65 L164.00,253.65 L165.00,253.64 L166.00,253.63 L167.00,253.63 L168.00,253.62 L169.00,253.61 L170.00,253.61 L171.00,253.60 L172.00,253.59 L173.00,253.58 L174.00,253.57 L175.00,253.57 L176.00,253.56 L177.00,253.55 L178.00,253.54 L179.00,253.53 L180.00,253.52 L181.00,253.52 L182.00,253.51 L183.00,253.50 L184.00,253.49 L185.00,253.48 L186.00,253.47 L187.00,253.46 L188.00,253.46 L189.00,253.45 L190.00,253.44 L191.00,253.43 L192.00,253.42 L193.00,253.41 L194.00,253.40 L195.00,253.39 L196.00,253.39 L197.00,253.38 L198.00,253.37 L199.00,253.36 L200.00,253.35 L201.00,253.34 L202.00,253.33 L203.00,253.32 L204.00,253.31 L205.00,253.31 L206.00,253.30 L207.00,253.29 L208.00,253.28 L209.00,253.27 L210.00,253.26 L211.00,253.25 L212.00,253.24 L213.00,253.23 L214.00,253.22 L215.00,253.22 L216.00,253.21 L217.00,253.20 L218.00,253.19 L219.00,253.18 L220.00,253.17 L221.00,253.16 L222.00,253.15 L223.00,253.14 L224.00,253.13 L225.00,253.13 L226.00,253.12 L227.00,253.11 L228.00,253.10 L229.00,253.09 L230.00,253.08 L231.00,253.07 L232.00,253.06 L233.00,253.05 L234.00,253.04 L235.00,253.04 L236.00,253.03 L237.00,253.02 L238.00,253.01 L239.00,253.00 L240.00,252.99 L241.00,252.98 L242.00,252.97 L243.00,252.96 L244.00,252.95 L245.00,252.94 L246.00,252.94 L247.00,252.93 L248.00,252.92 L249.00,252.91 L250.00,252.90 L251.00,252.89 L252.00,252.87 L253.00,252.85 L254.00,252.79 L255.00,252.65 L256.00,252.37 L257.00,251.84 L258.00,250.98 L259.00,249.82 L260.00,248.52 L261.00,247.38 L262.00,246.73 L263.00,246.71 L264.00,247.17 L265.00,247.71 L266.00,247.83 L267.00,247.25 L268.00,246.02 L269.00,244.55 L270.00,243.44 L271.00,243.18 L272.00,243.96 L273.00,245.56 L274.00,247.51 L275.00,249.34 L276.00,250.76 L277.00,251.69 L278.00,252.21 L279.00,252.46 L280.00,252.56 L281.00,252.60 L282.00,252.60 L283.00,252.60 L284.00,252.59 L285.00,252.58 L286.00,252.57 L287.00,252.56 L288.00,252.55 L289.00,252.55 L290.00,252.54 L291.00,252.53 L292.00,252.52 L293.00,252.51 L294.00,252.50 L295.00,252.49 L296.00,252.48 L297.00,252.47 L298.00,252.46 L299.00,252.45 L300.00,252.45 L301.00,252.44 L302.00,252.43 L303.00,252.42 L304.00,252.41 L305.00,252.40 L306.00,252.39 L307.00,252.38 L308.00,252.37 L309.00,252.36 L310.00,252.35 L311.00,252.35 L312.00,252.34 L313.00,252.33 L314.00,252.32 L315.00,252.31 L316.00,252.30 L317.00,252.29 L318.00,252.28 L319.00,252.27 L320.00,252.26 L321.00,252.25 L322.00,252.25 L323.00,252.24 L324.00,252.23 L325.00,252.22 L326.00,252.21 L327.00,252.20 L328.00,252.19 L329.00,252.18 L330.00,252.17 L331.00,252.16 L332.00,252.15 L333.00,252.15 L334.00,252.14 L335.00,252.13 L336.00,252.12 L337.00,252.11 L338.00,252.10" fill="none" stroke="#0000ff" stroke-width="1.95" stroke-linejoin="round"/>
<path d="M27.50,241.90 L28.50,241.86 L29.50,241.83 L30.50,241.80 L31.50,241.76 L32.50,241.73 L33.50,241.63 L34.50,241.22 L35.50,239.90 L36.50,237.87 L37.50,237.11 L38.50,238.59 L39.50,240.42 L40.50,241.24 L41.50,241.40 L42.50,241.39 L43.50,241.36 L44.50,241.33 L45.50,241.29 L46.50,241.26 L47.50,241.23 L48.50,241.19 L49.50,241.16 L50.50,241.12 L51.50,241.09 L52.50,241.06 L53.50,241.02 L54.50,240.99 L55.50,240.96 L56.50,240.92 L57.50,240.89 L58.50,240.85 L59.50,240.82 L60.50,240.79 L61.50,240.75 L62.50,240.72 L63.50,240.69 L64.50,240.65 L65.50,240.62 L66.50,240.58 L67.50,240.55 L68.50,240.52 L69.50,240.48 L70.50,240.45 L71.50,240.41 L72.50,240.38 L73.50,240.34 L74.50,240.31 L75.50,240.28 L76.50,240.24 L77.50,240.21 L78.50,240.17 L79.50,240.14 L80.50,240.10 L81.50,240.07 L82.50,240.03 L83.50,240.00 L84.50,239.96 L85.50,239.93 L86.50,239.89 L87.50,239.86 L88.50,239.82 L89.50,239.79 L90.50,239.75 L91.50,239.71 L92.50,239.68 L93.50,239.64 L94.50,239.60 L95.50,239.56 L96.50,239.52 L97.50,239.48 L98.50,239.44 L99.50,239.40 L100.50,239.36 L101.50,239.31 L102.50,239.27 L103.50,239.22 L104.50,239.17 L105.50,239.11 L106.50,239.03 L107.50,238.89 L108.50,238.59 L109.50,238.10 L110.50,237.70 L110.75,237.63 L111.00,237.58 L111.25,237.53 L111.50,237.49 L111.75,237.45 L112.00,237.42 L112.25,237.39 L112.50,237.36 L112.75,237.33 L113.00,237.30 L113.25,237.27 L113.50,237.24 L113.75,237.21 L114.00,237.17 L114.25,237.14 L114.50,237.10 L114.75,237.06 L115.00,237.02 L115.25,236.97 L115.50,236.92 L115.75,236.87 L116.00,236.81 L116.25,236.76 L116.50,236.69 L116.75,236.63 L117.00,236.55 L117.25,236.48 L117.50,236.39 L117.75,236.30 L118.00,236.20 L118.25,236.10 L118.50,235.99 L118.75,235.86 L119.00,235.73 L119.25,235.59 L119.50,235.43 L119.75,235.26 L120.00,235.07 L120.25,234.87 L120.50,234.65 L120.75,234.40 L121.00,234.14 L121.25,233.84 L121.50,233.52 L121.75,233.17 L122.00,232.79 L122.25,232.37 L122.50,231.90 L122.75,231.39 L123.00,230.83 L123.25,230.22 L123.50,229.55 L123.75,228.81 L124.00,228.00 L124.25,227.12 L124.50,226.14 L124.75,225.05 L125.00,223.84 L125.25,222.47 L125.50,220.95 L125.75,219.26 L126.00,217.43 L126.25,215.54 L126.50,213.68 L126.75,211.98 L127.00,210.59 L127.25,209.63 L127.50,209.16 L127.75,209.19 L128.00,209.67 L128.25,210.63 L128.50,211.82 L128.75,213.14 L129.00,214.51 L129.25,215.85 L129.50,217.14 L129.75,218.33 L130.00,219.42 L130.25,220.36 L130.50,221.15 L130.75,221.78 L131.00,222.25 L131.25,222.60 L131.50,222.87 L131.75,223.12 L132.00,223.43 L132.25,223.88 L132.50,224.49 L132.75,225.30 L133.00,226.30 L133.25,227.43 L133.50,228.64 L133.75,229.87 L134.00,231.04 L134.25,232.10 L134.50,233.03 L134.75,233.81 L135.00,234.45 L135.25,234.97 L135.50,235.38 L135.75,235.71 L136.00,235.98 L136.25,236.21 L136.50,236.40 L136.75,236.56 L137.00,236.71 L137.25,236.84 L137.50,236.96 L137.75,237.07 L138.00,237.17 L138.25,237.26 L138.50,237.34 L138.75,237.42 L139.00,237.49 L139.25,237.56 L139.50,237.62 L139.75,237.68 L140.00,237.73 L140.25,237.78 L140.50,237.82 L140.75,237.87 L141.00,237.91 L141.25,237.95 L141.50,237.98 L141.75,238.01 L142.00,238.04 L142.25,238.07 L142.50,238.10 L142.75,238.12 L143.00,238.14 L143.25,238.16 L143.50,238.18 L143.75,238.20 L144.00,238.22 L144.25,238.24 L144.50,238.25 L144.75,238.27 L145.00,238.28 L146.00,238.33 L147.00,238.36 L148.00,238.39 L149.00,238.41 L150.00,238.43 L151.00,238.44 L152.00,238.45 L153.00,238.45 L154.00,238.45 L155.00,238.41 L156.00,238.28 L157.00,237.97 L158.00,237.50 L159.00,237.06 L160.00,236.97 L161.00,237.29 L162.00,237.78 L163.00,238.15 L164.00,238.34 L165.00,238.40 L166.00,238.41 L167.00,238.41 L168.00,238.40 L169.00,238.39 L170.00,238.39 L171.00,238.38 L172.00,238.37 L173.00,238.36 L174.00,238.35 L175.00,238.35 L176.00,238.34 L177.00,238.33 L178.00,238.32 L179.00,238.31 L180.00,238.30 L181.00,238.29 L182.00,238.28 L183.00,238.28 L184.00,238.27 L185.00,238.26 L186.00,238.25 L187.00,238.24 L188.00,238.23 L189.00,238.22 L190.00,238.21 L191.00,238.20 L192.00,238.19 L193.00,238.18 L194.00,238.17 L195.00,238.17 L196.00,238.16 L197.00,238.15 L198.00,238.14 L199.00,238.13 L200.00,238.12 L201.00,238.11 L202.00,238.10 L203.00,238.09 L204.00,238.08 L205.00,238.07 L206.00,238.06 L207.00,238.05 L208.00,238.04 L209.00,238.03 L210.00,238.02 L211.00,238.02 L212.00,238.01 L213.00,238.00 L214.00,237.99 L215.00,237.98 L216.00,237.97 L217.00,237.96 L218.00,237.95 L219.00,237.94 L220.00,237.93 L221.00,237.92 L222.00,237.91 L223.00,237.90 L224.00,237.89 L225.00,237.88 L226.00,237.86 L227.00,237.82 L228.00,237.75 L229.00,237.64 L230.00,237.46 L231.00,237.21 L232.00,236.91 L233.00,236.60 L234.00,236.38 L235.00,236.29 L236.00,236.36 L237.00,236.57 L238.00,236.85 L239.00,237.13 L240.00,237.36 L241.00,237.53 L242.00,237.62 L243.00,237.67 L244.00,237.68 L245.00,237.69 L246.00,237.68 L247.00,237.67 L248.00,237.66 L249.00,237.64 L250.00,237.60 L251.00,237.50 L252.00,237.26 L253.00,236.79 L254.00,236.01 L255.00,234.98 L256.00,233.92 L257.00,233.20 L258.00,233.12 L259.00,233.71 L260.00,234.71 L261.00,235.75 L262.00,236.57 L263.00,237.08 L264.00,237.33 L265.00,237.41 L266.00,237.36 L267.00,237.18 L268.00,236.79 L269.00,236.12 L270.00,235.22 L271.00,234.27 L272.00,233.59 L273.00,233.45 L274.00,233.92 L275.00,234.78 L276.00,235.72 L277.00,236.47 L278.00,236.95 L279.00,237.20 L280.00,237.30 L281.00,237.33 L282.00,237.33 L283.00,237.33 L284.00,237.32 L285.00,237.31 L286.00,237.30 L287.00,237.29 L288.00,237.28 L289.00,237.27 L290.00,237.26 L291.00,237.25 L292.00,237.24 L293.00,237.23 L294.00,237.22 L295.00,237.21 L296.00,237.20 L297.00,237.19 L298.00,237.18 L299.00,237.17 L300.00,237.16 L301.00,237.15 L302.00,237.15 L303.00,237.14 L304.00,237.13 L305.00,237.12 L306.00,237.11 L307.00,237.10 L308.00,237.09 L309.00,237.08 L310.00,237.07 L311.00,237.06 L312.00,237.05 L313.00,237.04 L314.00,237.03 L315.00,237.02 L316.00,237.01 L317.00,237.00 L318.00,236.99 L319.00,236.98 L320.00,236.97 L321.00,236.96 L322.00,236.95 L323.00,236.94 L324.00,236.93 L325.00,236.92 L326.00,236.91 L327.00,236.91 L328.00,236.90 L329.00,236.89 L330.00,236.88 L331.00,236.87 L332.00,236.86 L333.00,236.85 L334.00,236.84 L335.00,236.83 L336.00,236.82 L337.00,236.81 L338.00,236.80" fill="none" stroke="#008000" stroke-width="1.95" stroke-linejoin="round"/>
<path d="M27.50,227.00 L28.50,226.96 L29.50,226.93 L30.50,226.89 L31.50,226.86 L32.50,226.82 L33.50,226.68 L34.50,225.97 L35.50,223.65 L36.50,220.06 L37.50,218.74 L38.50,221.39 L39.50,224.67 L40.50,226.16 L41.50,226.47 L42.50,226.47 L43.50,226.44 L44.50,226.41 L45.50,226.37 L46.50,226.34 L47.50,226.30 L48.50,226.27 L49.50,226.23 L50.50,226.20 L51.50,226.16 L52.50,226.13 L53.50,226.09 L54.50,226.06 L55.50,226.02 L56.50,225.99 L57.50,225.95 L58.50,225.92 L59.50,225.88 L60.50,225.85 L61.50,225.81 L62.50,225.78 L63.50,225.74 L64.50,225.71 L65.50,225.67 L66.50,225.64 L67.50,225.60 L68.50,225.57 L69.50,225.53 L70.50,225.50 L71.50,225.46 L72.50,225.43 L73.50,225.39 L74.50,225.35 L75.50,225.32 L76.50,225.28 L77.50,225.25 L78.50,225.21 L79.50,225.18 L80.50,225.14 L81.50,225.11 L82.50,225.07 L83.50,225.03 L84.50,225.00 L85.50,224.96 L86.50,224.92 L87.50,224.89 L88.50,224.85 L89.50,224.81 L90.50,224.78 L91.50,224.74 L92.50,224.70 L93.50,224.66 L94.50,224.63 L95.50,224.59 L96.50,224.55 L97.50,224.51 L98.50,224.47 L99.50,224.42 L100.50,224.38 L101.50,224.34 L102.50,224.29 L103.50,224.24 L104.50,224.19 L105.50,224.14 L106.50,224.06 L107.50,223.92 L108.50,223.62 L109.50,223.13 L110.50,222.73 L110.75,222.67 L111.00,222.61 L111.25,222.57 L111.50,222.53 L111.75,222.49 L112.00,222.46 L112.25,222.43 L112.50,222.40 L112.75,222.37 L113.00,222.34 L113.25,222.31 L113.50,222.28 L113.75,222.25 L114.00,222.21 L114.25,222.18 L114.50,222.14 L114.75,222.10 L115.00,222.05 L115.25,222.01 L115.50,221.96 L115.75,221.90 L116.00,221.84 L116.25,221.78 L116.50,221.71 L116.75,221.64 L117.00,221.56 L117.25,221.48 L117.50,221.38 L117.75,221.28 L118.00,221.17 L118.25,221.05 L118.50,220.91 L118.75,220.77 L119.00,220.61 L119.25,220.43 L119.50,220.23 L119.75,220.02 L120.00,219.77 L120.25,219.50 L120.50,219.20 L120.75,218.87 L121.00,218.49 L121.25,218.06 L121.50,217.58 L121.75,217.04 L122.00,216.42 L122.25,215.72 L122.50,214.92 L122.75,214.01 L123.00,212.97 L123.25,211.77 L123.50,210.40 L123.75,208.83 L124.00,207.02 L124.25,204.95 L124.50,202.59 L124.75,199.91 L125.00,196.88 L125.25,193.50 L125.50,189.77 L125.75,185.75 L126.00,181.51 L126.25,177.21 L126.50,173.03 L126.75,169.21 L127.00,166.05 L127.25,163.80 L127.50,162.68 L127.75,162.87 L128.00,164.32 L128.25,166.85 L128.50,170.22 L128.75,174.17 L129.00,178.42 L129.25,182.73 L129.50,186.90 L129.75,190.81 L130.00,194.37 L130.25,197.55 L130.50,200.33 L130.75,202.72 L131.00,204.74 L131.25,206.42 L131.50,207.79 L131.75,208.90 L132.00,209.76 L132.25,210.42 L132.50,210.92 L132.75,211.29 L133.00,211.57 L133.25,211.78 L133.50,211.97 L133.75,212.16 L134.00,212.37 L134.25,212.62 L134.50,212.94 L134.75,213.32 L135.00,213.78 L135.25,214.30 L135.50,214.88 L135.75,215.51 L136.00,216.18 L136.25,216.86 L136.50,217.54 L136.75,218.21 L137.00,218.84 L137.25,219.44 L137.50,219.99 L137.75,220.49 L138.00,220.93 L138.25,221.32 L138.50,221.65 L138.75,221.93 L139.00,222.17 L139.25,222.36 L139.50,222.52 L139.75,222.65 L140.00,222.76 L140.25,222.85 L140.50,222.92 L140.75,222.98 L141.00,223.03 L141.25,223.07 L141.50,223.11 L141.75,223.14 L142.00,223.17 L142.25,223.19 L142.50,223.21 L142.75,223.23 L143.00,223.25 L143.25,223.27 L143.50,223.29 L143.75,223.30 L144.00,223.31 L144.25,223.33 L144.50,223.34 L144.75,223.35 L145.00,223.36 L146.00,223.39 L147.00,223.42 L148.00,223.44 L149.00,223.45 L150.00,223.47 L151.00,223.47 L152.00,223.48 L153.00,223.48 L154.00,223.45 L155.00,223.33 L156.00,222.93 L157.00,222.01 L158.00,220.59 L159.00,219.29 L160.00,219.02 L161.00,219.99 L162.00,221.46 L163.00,222.61 L164.00,223.18 L165.00,223.37 L166.00,223.41 L167.00,223.41 L168.00,223.41 L169.00,223.40 L170.00,223.39 L171.00,223.38 L172.00,223.37 L173.00,223.37 L174.00,223.36 L175.00,223.35 L176.00,223.34 L177.00,223.33 L178.00,223.32 L179.00,223.31 L180.00,223.31 L181.00,223.30 L182.00,223.29 L183.00,223.28 L184.00,223.27 L185.00,223.26 L186.00,223.25 L187.00,223.24 L188.00,223.23 L189.00,223.22 L190.00,223.21 L191.00,223.20 L192.00,223.20 L193.00,223.19 L194.00,223.18 L195.00,223.17 L196.00,223.16 L197.00,223.15 L198.00,223.14 L199.00,223.13 L200.00,223.12 L201.00,223.11 L202.00,223.10 L203.00,223.09 L204.00,223.08 L205.00,223.07 L206.00,223.06 L207.00,223.05 L208.00,223.04 L209.00,223.03 L210.00,223.03 L211.00,223.02 L212.00,223.01 L213.00,223.00 L214.00,222.99 L215.00,222.98 L216.00,222.97 L217.00,222.96 L218.00,222.95 L219.00,222.94 L220.00,222.93 L221.00,222.92 L222.00,222.91 L223.00,222.90 L224.00,222.89 L225.00,222.87 L226.00,222.84 L227.00,222.78 L228.00,222.65 L229.00,222.40 L230.00,221.99 L231.00,221.39 L232.00,220.63 L233.00,219.82 L234.00,219.16 L235.00,218.81 L236.00,218.88 L237.00,219.36 L238.00,220.09 L239.00,220.88 L240.00,221.57 L241.00,222.07 L242.00,222.39 L243.00,222.56 L244.00,222.64 L245.00,222.67 L246.00,222.67 L247.00,222.67 L248.00,222.65 L249.00,222.62 L250.00,222.56 L251.00,222.44 L252.00,222.25 L253.00,221.97 L254.00,221.59 L255.00,221.18 L256.00,220.82 L257.00,220.60 L258.00,220.59 L259.00,220.79 L260.00,221.13 L261.00,221.51 L262.00,221.84 L263.00,222.05 L264.00,222.12 L265.00,222.04 L266.00,221.84 L267.00,221.56 L268.00,221.27 L269.00,221.04 L270.00,220.95 L271.00,221.02 L272.00,221.23 L273.00,221.50 L274.00,221.75 L275.00,221.90 L276.00,221.90 L277.00,221.68 L278.00,221.21 L279.00,220.50 L280.00,219.62 L281.00,218.74 L282.00,218.08 L283.00,217.83 L284.00,218.06 L285.00,218.70 L286.00,219.57 L287.00,220.44 L288.00,221.16 L289.00,221.66 L290.00,221.96 L291.00,222.12 L292.00,222.19 L293.00,222.21 L294.00,222.22 L295.00,222.21 L296.00,222.20 L297.00,222.19 L298.00,222.18 L299.00,222.17 L300.00,222.16 L301.00,222.15 L302.00,222.15 L303.00,222.14 L304.00,222.13 L305.00,222.12 L306.00,222.11 L307.00,222.10 L308.00,222.09 L309.00,222.08 L310.00,222.07 L311.00,222.06 L312.00,222.05 L313.00,222.04 L314.00,222.03 L315.00,222.02 L316.00,222.01 L317.00,222.00 L318.00,221.99 L319.00,221.98 L320.00,221.97 L321.00,221.96 L322.00,221.95 L323.00,221.94 L324.00,221.93 L325.00,221.92 L326.00,221.91 L327.00,221.91 L328.00,221.90 L329.00,221.89 L330.00,221.88 L331.00,221.87 L332.00,221.86 L333.00,221.85 L334.00,221.84 L335.00,221.83 L336.00,221.82 L337.00,221.81 L338.00,221.80" fill="none" stroke="#ff00ff" stroke-width="1.95" stroke-linejoin="round"/>
<path d="M27.50,212.00 L28.50,211.96 L29.50,211.92 L30.50,211.88 L31.50,211.83 L32.50,211.79 L33.50,211.72 L34.50,211.42 L35.50,210.31 L36.50,208.13 L37.50,206.60 L38.50,207.61 L39.50,209.79 L40.50,211.05 L41.50,211.37 L42.50,211.38 L43.50,211.34 L44.50,211.30 L45.50,211.26 L46.50,211.22 L47.50,211.18 L48.50,211.14 L49.50,211.09 L50.50,211.05 L51.50,211.01 L52.50,210.97 L53.50,210.93 L54.50,210.89 L55.50,210.85 L56.50,210.81 L57.50,210.77 L58.50,210.72 L59.50,210.68 L60.50,210.64 L61.50,210.60 L62.50,210.56 L63.50,210.52 L64.50,210.48 L65.50,210.44 L66.50,210.39 L67.50,210.35 L68.50,210.31 L69.50,210.27 L70.50,210.23 L71.50,210.19 L72.50,210.15 L73.50,210.10 L74.50,210.06 L75.50,210.02 L76.50,209.98 L77.50,209.94 L78.50,209.90 L79.50,209.85 L80.50,209.81 L81.50,209.77 L82.50,209.73 L83.50,209.69 L84.50,209.64 L85.50,209.60 L86.50,209.56 L87.50,209.52 L88.50,209.47 L89.50,209.43 L90.50,209.39 L91.50,209.34 L92.50,209.30 L93.50,209.26 L94.50,209.21 L95.50,209.17 L96.50,209.12 L97.50,209.07 L98.50,209.03 L99.50,208.98 L100.50,208.93 L101.50,208.88 L102.50,208.83 L103.50,208.78 L104.50,208.72 L105.50,208.66 L106.50,208.57 L107.50,208.43 L108.50,208.13 L109.50,207.64 L110.50,207.24 L110.75,207.17 L111.00,207.12 L111.25,207.07 L111.50,207.03 L111.75,207.00 L112.00,206.97 L112.25,206.94 L112.50,206.91 L112.75,206.88 L113.00,206.85 L113.25,206.82 L113.50,206.79 L113.75,206.76 L114.00,206.72 L114.25,206.69 L114.50,206.65 L114.75,206.61 L115.00,206.56 L115.25,206.52 L115.50,206.46 L115.75,206.41 L116.00,206.35 L116.25,206.29 L116.50,206.22 L116.75,206.15 L117.00,206.07 L117.25,205.98 L117.50,205.89 L117.75,205.79 L118.00,205.67 L118.25,205.55 L118.50,205.42 L118.75,205.27 L119.00,205.11 L119.25,204.93 L119.50,204.73 L119.75,204.52 L120.00,204.27 L120.25,204.00 L120.50,203.70 L120.75,203.36 L121.00,202.99 L121.25,202.56 L121.50,202.08 L121.75,201.55 L122.00,200.94 L122.25,200.25 L122.50,199.47 L122.75,198.59 L123.00,197.59 L123.25,196.45 L123.50,195.16 L123.75,193.70 L124.00,192.05 L124.25,190.20 L124.50,188.14 L124.75,185.86 L125.00,183.37 L125.25,180.69 L125.50,177.87 L125.75,174.99 L126.00,172.14 L126.25,169.46 L126.50,167.10 L126.75,165.22 L127.00,163.95 L127.25,163.41 L127.50,163.73 L127.75,164.82 L128.00,166.55 L128.25,168.81 L128.50,171.44 L128.75,174.29 L129.00,177.20 L129.25,180.06 L129.50,182.79 L129.75,185.32 L130.00,187.63 L130.25,189.69 L130.50,191.50 L130.75,193.07 L131.00,194.40 L131.25,195.53 L131.50,196.45 L131.75,197.20 L132.00,197.80 L132.25,198.26 L132.50,198.62 L132.75,198.89 L133.00,199.09 L133.25,199.26 L133.50,199.41 L133.75,199.56 L134.00,199.73 L134.25,199.93 L134.50,200.17 L134.75,200.46 L135.00,200.80 L135.25,201.19 L135.50,201.62 L135.75,202.09 L136.00,202.58 L136.25,203.08 L136.50,203.57 L136.75,204.06 L137.00,204.53 L137.25,204.97 L137.50,205.37 L137.75,205.74 L138.00,206.06 L138.25,206.34 L138.50,206.59 L138.75,206.79 L139.00,206.97 L139.25,207.11 L139.50,207.23 L139.75,207.33 L140.00,207.41 L140.25,207.48 L140.50,207.54 L140.75,207.58 L141.00,207.62 L141.25,207.66 L141.50,207.69 L141.75,207.71 L142.00,207.74 L142.25,207.76 L142.50,207.78 L142.75,207.80 L143.00,207.81 L143.25,207.83 L143.50,207.84 L143.75,207.85 L144.00,207.87 L144.25,207.88 L144.50,207.89 L144.75,207.90 L145.00,207.91 L146.00,207.94 L147.00,207.96 L148.00,207.98 L149.00,207.99 L150.00,208.00 L151.00,208.01 L152.00,208.02 L153.00,208.02 L154.00,208.01 L155.00,207.94 L156.00,207.72 L157.00,207.21 L158.00,206.42 L159.00,205.70 L160.00,205.55 L161.00,206.09 L162.00,206.90 L163.00,207.54 L164.00,207.86 L165.00,207.96 L166.00,207.99 L167.00,207.98 L168.00,207.98 L169.00,207.97 L170.00,207.97 L171.00,207.96 L172.00,207.96 L173.00,207.95 L174.00,207.94 L175.00,207.94 L176.00,207.93 L177.00,207.93 L178.00,207.92 L179.00,207.91 L180.00,207.91 L181.00,207.90 L182.00,207.89 L183.00,207.89 L184.00,207.88 L185.00,207.87 L186.00,207.87 L187.00,207.86 L188.00,207.85 L189.00,207.85 L190.00,207.84 L191.00,207.83 L192.00,207.83 L193.00,207.82 L194.00,207.81 L195.00,207.81 L196.00,207.80 L197.00,207.79 L198.00,207.79 L199.00,207.78 L200.00,207.77 L201.00,207.76 L202.00,207.76 L203.00,207.75 L204.00,207.74 L205.00,207.74 L206.00,207.73 L207.00,207.72 L208.00,207.72 L209.00,207.71 L210.00,207.70 L211.00,207.70 L212.00,207.69 L213.00,207.68 L214.00,207.67 L215.00,207.67 L216.00,207.66 L217.00,207.65 L218.00,207.65 L219.00,207.64 L220.00,207.63 L221.00,207.63 L222.00,207.62 L223.00,207.61 L224.00,207.60 L225.00,207.59 L226.00,207.57 L227.00,207.53 L228.00,207.45 L229.00,207.29 L230.00,207.04 L231.00,206.66 L232.00,206.18 L233.00,205.68 L234.00,205.26 L235.00,205.04 L236.00,205.09 L237.00,205.38 L238.00,205.84 L239.00,206.33 L240.00,206.76 L241.00,207.07 L242.00,207.27 L243.00,207.38 L244.00,207.43 L245.00,207.44 L246.00,207.45 L247.00,207.44 L248.00,207.43 L249.00,207.42 L250.00,207.40 L251.00,207.34 L252.00,207.20 L253.00,206.93 L254.00,206.45 L255.00,205.78 L256.00,205.06 L257.00,204.52 L258.00,204.37 L259.00,204.68 L260.00,205.31 L261.00,206.02 L262.00,206.60 L263.00,206.97 L264.00,207.15 L265.00,207.15 L266.00,206.98 L267.00,206.61 L268.00,205.98 L269.00,205.16 L270.00,204.36 L271.00,203.84 L272.00,203.83 L273.00,204.33 L274.00,205.12 L275.00,205.89 L276.00,206.42 L277.00,206.60 L278.00,206.40 L279.00,205.87 L280.00,205.12 L281.00,204.38 L282.00,203.94 L283.00,203.98 L284.00,204.49 L285.00,205.25 L286.00,206.00 L287.00,206.55 L288.00,206.88 L289.00,207.04 L290.00,207.11 L291.00,207.12 L292.00,207.12 L293.00,207.12 L294.00,207.11 L295.00,207.10 L296.00,207.10 L297.00,207.09 L298.00,207.08 L299.00,207.08 L300.00,207.07 L301.00,207.06 L302.00,207.05 L303.00,207.05 L304.00,207.04 L305.00,207.03 L306.00,207.03 L307.00,207.02 L308.00,207.01 L309.00,207.00 L310.00,207.00 L311.00,206.99 L312.00,206.98 L313.00,206.98 L314.00,206.97 L315.00,206.96 L316.00,206.96 L317.00,206.95 L318.00,206.94 L319.00,206.93 L320.00,206.93 L321.00,206.92 L322.00,206.91 L323.00,206.91 L324.00,206.90 L325.00,206.89 L326.00,206.88 L327.00,206.88 L328.00,206.87 L329.00,206.86 L330.00,206.86 L331.00,206.85 L332.00,206.84 L333.00,206.84 L334.00,206.83 L335.00,206.82 L336.00,206.81 L337.00,206.81 L338.00,206.80" fill="none" stroke="#008000" stroke-width="1.95" stroke-linejoin="round"/>
<path d="M27.50,196.20 L28.50,196.16 L29.50,196.13 L30.50,196.10 L31.50,196.06 L32.50,196.03 L33.50,196.00 L34.50,195.96 L35.50,195.93 L36.50,195.90 L37.50,195.86 L38.50,195.83 L39.50,195.80 L40.50,195.76 L41.50,195.73 L42.50,195.69 L43.50,195.66 L44.50,195.63 L45.50,195.59 L46.50,195.56 L47.50,195.53 L48.50,195.49 L49.50,195.46 L50.50,195.43 L51.50,195.39 L52.50,195.36 L53.50,195.32 L54.50,195.29 L55.50,195.26 L56.50,195.22 L57.50,195.19 L58.50,195.16 L59.50,195.12 L60.50,195.09 L61.50,195.05 L62.50,195.02 L63.50,194.99 L64.50,194.95 L65.50,194.92 L66.50,194.88 L67.50,194.85 L68.50,194.82 L69.50,194.78 L70.50,194.75 L71.50,194.72 L72.50,194.68 L73.50,194.65 L74.50,194.61 L75.50,194.58 L76.50,194.54 L77.50,194.51 L78.50,194.48 L79.50,194.44 L80.50,194.41 L81.50,194.37 L82.50,194.34 L83.50,194.30 L84.50,194.27 L85.50,194.23 L86.50,194.20 L87.50,194.16 L88.50,194.13 L89.50,194.09 L90.50,194.06 L91.50,194.02 L92.50,193.98 L93.50,193.95 L94.50,193.91 L95.50,193.87 L96.50,193.83 L97.50,193.79 L98.50,193.75 L99.50,193.71 L100.50,193.67 L101.50,193.63 L102.50,193.59 L103.50,193.54 L104.50,193.49 L105.50,193.43 L106.50,193.36 L107.50,193.22 L108.50,192.92 L109.50,192.43 L110.50,192.03 L110.75,191.97 L111.00,191.91 L111.25,191.87 L111.50,191.83 L111.75,191.80 L112.00,191.76 L112.25,191.74 L112.50,191.71 L112.75,191.68 L113.00,191.65 L113.25,191.62 L113.50,191.59 L113.75,191.56 L114.00,191.52 L114.25,191.49 L114.50,191.45 L114.75,191.41 L115.00,191.36 L115.25,191.32 L115.50,191.27 L115.75,191.21 L116.00,191.16 L116.25,191.10 L116.50,191.03 L116.75,190.96 L117.00,190.88 L117.25,190.80 L117.50,190.71 L117.75,190.61 L118.00,190.50 L118.25,190.38 L118.50,190.25 L118.75,190.11 L119.00,189.96 L119.25,189.79 L119.50,189.60 L119.75,189.39 L120.00,189.16 L120.25,188.91 L120.50,188.62 L120.75,188.30 L121.00,187.95 L121.25,187.55 L121.50,187.10 L121.75,186.60 L122.00,186.03 L122.25,185.38 L122.50,184.66 L122.75,183.83 L123.00,182.89 L123.25,181.83 L123.50,180.61 L123.75,179.24 L124.00,177.67 L124.25,175.91 L124.50,173.91 L124.75,171.68 L125.00,169.20 L125.25,166.48 L125.50,163.53 L125.75,160.40 L126.00,157.17 L126.25,153.94 L126.50,150.86 L126.75,148.10 L127.00,145.84 L127.25,144.25 L127.50,143.46 L127.75,143.62 L128.00,144.68 L128.25,146.51 L128.50,148.97 L128.75,151.87 L129.00,155.04 L129.25,158.32 L129.50,161.55 L129.75,164.64 L130.00,167.51 L130.25,170.11 L130.50,172.43 L130.75,174.45 L131.00,176.17 L131.25,177.60 L131.50,178.75 L131.75,179.65 L132.00,180.31 L132.25,180.74 L132.50,180.99 L132.75,181.08 L133.00,181.04 L133.25,180.92 L133.50,180.76 L133.75,180.60 L134.00,180.48 L134.25,180.43 L134.50,180.50 L134.75,180.69 L135.00,181.02 L135.25,181.49 L135.50,182.09 L135.75,182.81 L136.00,183.61 L136.25,184.47 L136.50,185.37 L136.75,186.26 L137.00,187.12 L137.25,187.93 L137.50,188.67 L137.75,189.34 L138.00,189.92 L138.25,190.41 L138.50,190.83 L138.75,191.17 L139.00,191.45 L139.25,191.67 L139.50,191.84 L139.75,191.98 L140.00,192.09 L140.25,192.18 L140.50,192.25 L140.75,192.30 L141.00,192.35 L141.25,192.39 L141.50,192.42 L141.75,192.45 L142.00,192.48 L142.25,192.50 L142.50,192.53 L142.75,192.55 L143.00,192.56 L143.25,192.58 L143.50,192.60 L143.75,192.61 L144.00,192.63 L144.25,192.64 L144.50,192.65 L144.75,192.66 L145.00,192.67 L146.00,192.71 L147.00,192.74 L148.00,192.76 L149.00,192.78 L150.00,192.79 L151.00,192.80 L152.00,192.81 L153.00,192.81 L154.00,192.82 L155.00,192.82 L156.00,192.82 L157.00,192.82 L158.00,192.82 L159.00,192.81 L160.00,192.81 L161.00,192.81 L162.00,192.81 L163.00,192.80 L164.00,192.80 L165.00,192.79 L166.00,192.79 L167.00,192.78 L168.00,192.78 L169.00,192.77 L170.00,192.77 L171.00,192.76 L172.00,192.76 L173.00,192.75 L174.00,192.74 L175.00,192.74 L176.00,192.73 L177.00,192.73 L178.00,192.72 L179.00,192.71 L180.00,192.71 L181.00,192.70 L182.00,192.69 L183.00,192.69 L184.00,192.68 L185.00,192.67 L186.00,192.67 L187.00,192.66 L188.00,192.65 L189.00,192.65 L190.00,192.64 L191.00,192.63 L192.00,192.63 L193.00,192.62 L194.00,192.61 L195.00,192.61 L196.00,192.60 L197.00,192.59 L198.00,192.59 L199.00,192.58 L200.00,192.57 L201.00,192.56 L202.00,192.56 L203.00,192.55 L204.00,192.54 L205.00,192.54 L206.00,192.53 L207.00,192.52 L208.00,192.52 L209.00,192.51 L210.00,192.50 L211.00,192.50 L212.00,192.49 L213.00,192.48 L214.00,192.47 L215.00,192.47 L216.00,192.46 L217.00,192.45 L218.00,192.45 L219.00,192.44 L220.00,192.43 L221.00,192.43 L222.00,192.42 L223.00,192.41 L224.00,192.40 L225.00,192.40 L226.00,192.39 L227.00,192.38 L228.00,192.38 L229.00,192.37 L230.00,192.36 L231.00,192.36 L232.00,192.35 L233.00,192.34 L234.00,192.33 L235.00,192.33 L236.00,192.32 L237.00,192.31 L238.00,192.31 L239.00,192.30 L240.00,192.29 L241.00,192.28 L242.00,192.28 L243.00,192.27 L244.00,192.26 L245.00,192.26 L246.00,192.25 L247.00,192.24 L248.00,192.24 L249.00,192.23 L250.00,192.22 L251.00,192.21 L252.00,192.20 L253.00,192.19 L254.00,192.16 L255.00,192.09 L256.00,191.93 L257.00,191.63 L258.00,191.13 L259.00,190.41 L260.00,189.54 L261.00,188.71 L262.00,188.12 L263.00,187.88 L264.00,187.90 L265.00,187.87 L266.00,187.43 L267.00,186.39 L268.00,184.89 L269.00,183.41 L270.00,182.55 L271.00,182.74 L272.00,183.98 L273.00,185.88 L274.00,187.89 L275.00,189.58 L276.00,190.75 L277.00,191.44 L278.00,191.79 L279.00,191.93 L280.00,191.98 L281.00,192.00 L282.00,191.99 L283.00,191.99 L284.00,191.98 L285.00,191.97 L286.00,191.97 L287.00,191.96 L288.00,191.95 L289.00,191.95 L290.00,191.94 L291.00,191.93 L292.00,191.92 L293.00,191.92 L294.00,191.91 L295.00,191.90 L296.00,191.90 L297.00,191.89 L298.00,191.88 L299.00,191.88 L300.00,191.87 L301.00,191.86 L302.00,191.85 L303.00,191.85 L304.00,191.84 L305.00,191.83 L306.00,191.83 L307.00,191.82 L308.00,191.81 L309.00,191.80 L310.00,191.80 L311.00,191.79 L312.00,191.78 L313.00,191.78 L314.00,191.77 L315.00,191.76 L316.00,191.76 L317.00,191.75 L318.00,191.74 L319.00,191.73 L320.00,191.73 L321.00,191.72 L322.00,191.71 L323.00,191.71 L324.00,191.70 L325.00,191.69 L326.00,191.68 L327.00,191.68 L328.00,191.67 L329.00,191.66 L330.00,191.66 L331.00,191.65 L332.00,191.64 L333.00,191.64 L334.00,191.63 L335.00,191.62 L336.00,191.61 L337.00,191.61 L338.00,191.60" fill="none" stroke="#0000ff" stroke-width="1.95" stroke-linejoin="round"/>
<path d="M27.50,181.50 L28.50,181.45 L29.50,181.41 L30.50,181.36 L31.50,181.31 L32.50,181.27 L33.50,181.22 L34.50,181.18 L35.50,181.13 L36.50,181.08 L37.50,181.04 L38.50,180.99 L39.50,180.95 L40.50,180.90 L41.50,180.85 L42.50,180.81 L43.50,180.76 L44.50,180.72 L45.50,180.67 L46.50,180.62 L47.50,180.58 L48.50,180.53 L49.50,180.49 L50.50,180.44 L51.50,180.39 L52.50,180.35 L53.50,180.30 L54.50,180.26 L55.50,180.21 L56.50,180.16 L57.50,180.12 L58.50,180.07 L59.50,180.02 L60.50,179.98 L61.50,179.93 L62.50,179.89 L63.50,179.84 L64.50,179.79 L65.50,179.75 L66.50,179.70 L67.50,179.65 L68.50,179.61 L69.50,179.56 L70.50,179.52 L71.50,179.47 L72.50,179.42 L73.50,179.38 L74.50,179.33 L75.50,179.28 L76.50,179.24 L77.50,179.19 L78.50,179.14 L79.50,179.10 L80.50,179.05 L81.50,179.00 L82.50,178.96 L83.50,178.91 L84.50,178.86 L85.50,178.82 L86.50,178.77 L87.50,178.72 L88.50,178.67 L89.50,178.63 L90.50,178.58 L91.50,178.53 L92.50,178.48 L93.50,178.43 L94.50,178.38 L95.50,178.33 L96.50,178.28 L97.50,178.23 L98.50,178.18 L99.50,178.13 L100.50,178.08 L101.50,178.03 L102.50,177.97 L103.50,177.91 L104.50,177.86 L105.50,177.79 L106.50,177.71 L107.50,177.57 L108.50,177.27 L109.50,176.79 L110.50,176.40 L110.75,176.34 L111.00,176.29 L111.25,176.25 L111.50,176.21 L111.75,176.19 L112.00,176.16 L112.25,176.13 L112.50,176.11 L112.75,176.09 L113.00,176.07 L113.25,176.04 L113.50,176.02 L113.75,176.00 L114.00,175.97 L114.25,175.95 L114.50,175.92 L114.75,175.89 L115.00,175.86 L115.25,175.83 L115.50,175.79 L115.75,175.76 L116.00,175.72 L116.25,175.67 L116.50,175.63 L116.75,175.58 L117.00,175.53 L117.25,175.47 L117.50,175.41 L117.75,175.35 L118.00,175.28 L118.25,175.20 L118.50,175.12 L118.75,175.03 L119.00,174.93 L119.25,174.82 L119.50,174.70 L119.75,174.57 L120.00,174.43 L120.25,174.26 L120.50,174.09 L120.75,173.89 L121.00,173.67 L121.25,173.42 L121.50,173.14 L121.75,172.82 L122.00,172.46 L122.25,172.05 L122.50,171.58 L122.75,171.04 L123.00,170.42 L123.25,169.70 L123.50,168.86 L123.75,167.86 L124.00,166.69 L124.25,165.29 L124.50,163.60 L124.75,161.44 L125.00,158.27 L125.25,152.72 L125.50,142.96 L125.75,127.87 L126.00,108.05 L126.25,100.00 L126.50,100.00 L126.75,100.00 L127.00,100.00 L127.25,100.00 L127.50,100.00 L127.75,100.00 L128.00,100.00 L128.25,100.00 L128.50,100.00 L128.75,100.00 L129.00,100.00 L129.25,100.00 L129.50,100.00 L129.75,100.00 L130.00,100.00 L130.25,100.00 L130.50,100.00 L130.75,100.00 L131.00,100.00 L131.25,100.00 L131.50,100.00 L131.75,100.00 L132.00,100.00 L132.25,100.00 L132.50,100.00 L132.75,104.53 L133.00,125.12 L133.25,141.27 L133.50,152.08 L133.75,158.34 L134.00,161.87 L134.25,164.18 L134.50,165.95 L134.75,167.41 L135.00,168.63 L135.25,169.66 L135.50,170.54 L135.75,171.29 L136.00,171.93 L136.25,172.48 L136.50,172.96 L136.75,173.38 L137.00,173.75 L137.25,174.07 L137.50,174.36 L137.75,174.61 L138.00,174.83 L138.25,175.03 L138.50,175.21 L138.75,175.37 L139.00,175.51 L139.25,175.64 L139.50,175.76 L139.75,175.86 L140.00,175.96 L140.25,176.05 L140.50,176.13 L140.75,176.20 L141.00,176.27 L141.25,176.33 L141.50,176.39 L141.75,176.44 L142.00,176.49 L142.25,176.54 L142.50,176.58 L142.75,176.62 L143.00,176.65 L143.25,176.69 L143.50,176.72 L143.75,176.74 L144.00,176.77 L144.25,176.79 L144.50,176.82 L144.75,176.84 L145.00,176.86 L146.00,176.93 L147.00,176.98 L148.00,177.02 L149.00,177.05 L150.00,177.08 L151.00,177.10 L152.00,177.11 L153.00,177.13 L154.00,177.14 L155.00,177.14 L156.00,177.15 L157.00,177.16 L158.00,177.16 L159.00,177.16 L160.00,177.16 L161.00,177.16 L162.00,177.17 L163.00,177.16 L164.00,177.16 L165.00,177.16 L166.00,177.16 L167.00,177.16 L168.00,177.16 L169.00,177.16 L170.00,177.15 L171.00,177.15 L172.00,177.15 L173.00,177.15 L174.00,177.14 L175.00,177.14 L176.00,177.14 L177.00,177.14 L178.00,177.13 L179.00,177.13 L180.00,177.13 L181.00,177.12 L182.00,177.12 L183.00,177.12 L184.00,177.11 L185.00,177.11 L186.00,177.11 L187.00,177.10 L188.00,177.10 L189.00,177.09 L190.00,177.09 L191.00,177.09 L192.00,177.08 L193.00,177.08 L194.00,177.08 L195.00,177.07 L196.00,177.07 L197.00,177.06 L198.00,177.06 L199.00,177.06 L200.00,177.05 L201.00,177.05 L202.00,177.05 L203.00,177.04 L204.00,177.04 L205.00,177.03 L206.00,177.03 L207.00,177.03 L208.00,177.02 L209.00,177.02 L210.00,177.01 L211.00,177.01 L212.00,177.01 L213.00,177.00 L214.00,177.00 L215.00,176.99 L216.00,176.99 L217.00,176.99 L218.00,176.98 L219.00,176.98 L220.00,176.97 L221.00,176.97 L222.00,176.97 L223.00,176.96 L224.00,176.96 L225.00,176.95 L226.00,176.95 L227.00,176.95 L228.00,176.94 L229.00,176.94 L230.00,176.93 L231.00,176.93 L232.00,176.93 L233.00,176.92 L234.00,176.92 L235.00,176.91 L236.00,176.91 L237.00,176.91 L238.00,176.90 L239.00,176.90 L240.00,176.89 L241.00,176.89 L242.00,176.89 L243.00,176.88 L244.00,176.88 L245.00,176.87 L246.00,176.87 L247.00,176.87 L248.00,176.86 L249.00,176.86 L250.00,176.85 L251.00,176.85 L252.00,176.85 L253.00,176.84 L254.00,176.84 L255.00,176.83 L256.00,176.83 L257.00,176.81 L258.00,176.79 L259.00,176.73 L260.00,176.60 L261.00,176.34 L262.00,175.86 L263.00,175.05 L264.00,173.84 L265.00,172.19 L266.00,170.23 L267.00,168.20 L268.00,166.49 L269.00,165.46 L270.00,165.35 L271.00,166.20 L272.00,167.80 L273.00,169.79 L274.00,171.78 L275.00,173.50 L276.00,174.79 L277.00,175.67 L278.00,176.20 L279.00,176.49 L280.00,176.63 L281.00,176.69 L282.00,176.71 L283.00,176.72 L284.00,176.72 L285.00,176.71 L286.00,176.71 L287.00,176.71 L288.00,176.70 L289.00,176.70 L290.00,176.69 L291.00,176.69 L292.00,176.69 L293.00,176.68 L294.00,176.68 L295.00,176.67 L296.00,176.67 L297.00,176.67 L298.00,176.66 L299.00,176.66 L300.00,176.65 L301.00,176.65 L302.00,176.65 L303.00,176.64 L304.00,176.64 L305.00,176.63 L306.00,176.63 L307.00,176.62 L308.00,176.62 L309.00,176.62 L310.00,176.61 L311.00,176.61 L312.00,176.60 L313.00,176.60 L314.00,176.60 L315.00,176.59 L316.00,176.59 L317.00,176.58 L318.00,176.58 L319.00,176.58 L320.00,176.57 L321.00,176.57 L322.00,176.56 L323.00,176.56 L324.00,176.56 L325.00,176.55 L326.00,176.55 L327.00,176.54 L328.00,176.54 L329.00,176.54 L330.00,176.53 L331.00,176.53 L332.00,176.52 L333.00,176.52 L334.00,176.52 L335.00,176.51 L336.00,176.51 L337.00,176.50 L338.00,176.50" fill="none" stroke="#ff0000" stroke-width="1.95" stroke-linejoin="round"/>
<path d="M27.50,165.90 L28.50,165.87 L29.50,165.84 L30.50,165.81 L31.50,165.78 L32.50,165.75 L33.50,165.72 L34.50,165.69 L35.50,165.66 L36.50,165.63 L37.50,165.60 L38.50,165.57 L39.50,165.54 L40.50,165.51 L41.50,165.48 L42.50,165.45 L43.50,165.42 L44.50,165.39 L45.50,165.36 L46.50,165.33 L47.50,165.30 L48.50,165.27 L49.50,165.24 L50.50,165.21 L51.50,165.18 L52.50,165.15 L53.50,165.12 L54.50,165.09 L55.50,165.06 L56.50,165.03 L57.50,165.00 L58.50,164.97 L59.50,164.94 L60.50,164.91 L61.50,164.88 L62.50,164.85 L63.50,164.82 L64.50,164.79 L65.50,164.76 L66.50,164.73 L67.50,164.70 L68.50,164.67 L69.50,164.64 L70.50,164.61 L71.50,164.58 L72.50,164.55 L73.50,164.51 L74.50,164.48 L75.50,164.45 L76.50,164.42 L77.50,164.39 L78.50,164.36 L79.50,164.33 L80.50,164.30 L81.50,164.27 L82.50,164.24 L83.50,164.21 L84.50,164.17 L85.50,164.14 L86.50,164.11 L87.50,164.08 L88.50,164.05 L89.50,164.01 L90.50,163.98 L91.50,163.95 L92.50,163.91 L93.50,163.88 L94.50,163.85 L95.50,163.81 L96.50,163.77 L97.50,163.74 L98.50,163.70 L99.50,163.66 L100.50,163.62 L101.50,163.58 L102.50,163.54 L103.50,163.49 L104.50,163.44 L105.50,163.39 L106.50,163.31 L107.50,163.18 L108.50,162.87 L109.50,162.38 L110.50,161.97 L110.75,161.91 L111.00,161.85 L111.25,161.80 L111.50,161.76 L111.75,161.73 L112.00,161.69 L112.25,161.66 L112.50,161.63 L112.75,161.60 L113.00,161.57 L113.25,161.54 L113.50,161.50 L113.75,161.47 L114.00,161.43 L114.25,161.39 L114.50,161.35 L114.75,161.31 L115.00,161.26 L115.25,161.21 L115.50,161.16 L115.75,161.10 L116.00,161.04 L116.25,160.98 L116.50,160.91 L116.75,160.84 L117.00,160.76 L117.25,160.67 L117.50,160.58 L117.75,160.47 L118.00,160.36 L118.25,160.24 L118.50,160.11 L118.75,159.97 L119.00,159.81 L119.25,159.64 L119.50,159.45 L119.75,159.24 L120.00,159.00 L120.25,158.74 L120.50,158.46 L120.75,158.13 L121.00,157.77 L121.25,157.37 L121.50,156.91 L121.75,156.39 L122.00,155.80 L122.25,155.12 L122.50,154.35 L122.75,153.45 L123.00,152.41 L123.25,151.20 L123.50,149.78 L123.75,148.10 L124.00,146.10 L124.25,143.71 L124.50,140.82 L124.75,137.30 L125.00,132.97 L125.25,127.60 L125.50,120.85 L125.75,112.28 L126.00,101.23 L126.25,100.00 L126.50,100.00 L126.75,100.00 L127.00,100.00 L127.25,100.00 L127.50,100.00 L127.75,100.00 L128.00,100.00 L128.25,100.00 L128.50,100.00 L128.75,100.00 L129.00,100.00 L129.25,100.00 L129.50,100.00 L129.75,100.00 L130.00,100.00 L130.25,100.00 L130.50,100.00 L130.75,100.00 L131.00,100.00 L131.25,100.00 L131.50,100.00 L131.75,100.00 L132.00,100.00 L132.25,100.00 L132.50,106.85 L132.75,116.84 L133.00,124.64 L133.25,130.81 L133.50,135.75 L133.75,139.74 L134.00,143.00 L134.25,145.69 L134.50,147.92 L134.75,149.79 L135.00,151.36 L135.25,152.70 L135.50,153.84 L135.75,154.82 L136.00,155.67 L136.25,156.41 L136.50,157.05 L136.75,157.61 L137.00,158.10 L137.25,158.53 L137.50,158.92 L137.75,159.26 L138.00,159.56 L138.25,159.83 L138.50,160.08 L138.75,160.30 L139.00,160.49 L139.25,160.67 L139.50,160.83 L139.75,160.98 L140.00,161.11 L140.25,161.23 L140.50,161.35 L140.75,161.45 L141.00,161.54 L141.25,161.63 L141.50,161.71 L141.75,161.78 L142.00,161.85 L142.25,161.91 L142.50,161.97 L142.75,162.02 L143.00,162.07 L143.25,162.11 L143.50,162.16 L143.75,162.20 L144.00,162.23 L144.25,162.27 L144.50,162.30 L144.75,162.33 L145.00,162.36 L146.00,162.45 L147.00,162.52 L148.00,162.58 L149.00,162.62 L150.00,162.66 L151.00,162.69 L152.00,162.71 L153.00,162.72 L154.00,162.74 L155.00,162.75 L156.00,162.75 L157.00,162.76 L158.00,162.76 L159.00,162.77 L160.00,162.77 L161.00,162.77 L162.00,162.77 L163.00,162.76 L164.00,162.76 L165.00,162.76 L166.00,162.75 L167.00,162.75 L168.00,162.75 L169.00,162.74 L170.00,162.74 L171.00,162.73 L172.00,162.73 L173.00,162.72 L174.00,162.72 L175.00,162.71 L176.00,162.70 L177.00,162.70 L178.00,162.69 L179.00,162.69 L180.00,162.68 L181.00,162.67 L182.00,162.67 L183.00,162.66 L184.00,162.65 L185.00,162.65 L186.00,162.64 L187.00,162.63 L188.00,162.62 L189.00,162.62 L190.00,162.61 L191.00,162.60 L192.00,162.60 L193.00,162.59 L194.00,162.58 L195.00,162.57 L196.00,162.57 L197.00,162.56 L198.00,162.55 L199.00,162.55 L200.00,162.54 L201.00,162.53 L202.00,162.52 L203.00,162.52 L204.00,162.51 L205.00,162.50 L206.00,162.49 L207.00,162.49 L208.00,162.48 L209.00,162.47 L210.00,162.47 L211.00,162.46 L212.00,162.45 L213.00,162.44 L214.00,162.44 L215.00,162.43 L216.00,162.42 L217.00,162.41 L218.00,162.41 L219.00,162.40 L220.00,162.39 L221.00,162.38 L222.00,162.38 L223.00,162.37 L224.00,162.36 L225.00,162.35 L226.00,162.35 L227.00,162.34 L228.00,162.33 L229.00,162.32 L230.00,162.32 L231.00,162.31 L232.00,162.30 L233.00,162.29 L234.00,162.29 L235.00,162.28 L236.00,162.27 L237.00,162.26 L238.00,162.26 L239.00,162.25 L240.00,162.24 L241.00,162.23 L242.00,162.23 L243.00,162.22 L244.00,162.21 L245.00,162.20 L246.00,162.20 L247.00,162.19 L248.00,162.18 L249.00,162.17 L250.00,162.17 L251.00,162.16 L252.00,162.15 L253.00,162.14 L254.00,162.13 L255.00,162.12 L256.00,162.10 L257.00,162.05 L258.00,161.96 L259.00,161.78 L260.00,161.43 L261.00,160.81 L262.00,159.81 L263.00,158.33 L264.00,156.34 L265.00,153.96 L266.00,151.44 L267.00,149.18 L268.00,147.60 L269.00,147.02 L270.00,147.58 L271.00,149.15 L272.00,151.40 L273.00,153.90 L274.00,156.27 L275.00,158.24 L276.00,159.70 L277.00,160.69 L278.00,161.29 L279.00,161.63 L280.00,161.80 L281.00,161.87 L282.00,161.90 L283.00,161.91 L284.00,161.91 L285.00,161.90 L286.00,161.89 L287.00,161.89 L288.00,161.88 L289.00,161.87 L290.00,161.86 L291.00,161.86 L292.00,161.85 L293.00,161.84 L294.00,161.83 L295.00,161.83 L296.00,161.82 L297.00,161.81 L298.00,161.80 L299.00,161.79 L300.00,161.79 L301.00,161.78 L302.00,161.77 L303.00,161.76 L304.00,161.76 L305.00,161.75 L306.00,161.74 L307.00,161.73 L308.00,161.73 L309.00,161.72 L310.00,161.71 L311.00,161.70 L312.00,161.70 L313.00,161.69 L314.00,161.68 L315.00,161.67 L316.00,161.67 L317.00,161.66 L318.00,161.65 L319.00,161.64 L320.00,161.64 L321.00,161.63 L322.00,161.62 L323.00,161.61 L324.00,161.61 L325.00,161.60 L326.00,161.59 L327.00,161.58 L328.00,161.58 L329.00,161.57 L330.00,161.56 L331.00,161.55 L332.00,161.55 L333.00,161.54 L334.00,161.53 L335.00,161.52 L336.00,161.51 L337.00,161.51 L338.00,161.50" fill="none" stroke="#000" stroke-width="1.95" stroke-linejoin="round"/>
</g>
<rect x="27.5" y="116.1" width="310.5" height="185.7" fill="none" stroke="#000" stroke-width="1.6"/>
<line x1="27.5" y1="301.8" x2="27.5" y2="297.0" stroke="#000" stroke-width="1.2"/>
<line x1="66.3" y1="301.8" x2="66.3" y2="299.2" stroke="#000" stroke-width="1.2"/>
<line x1="105.1" y1="301.8" x2="105.1" y2="297.0" stroke="#000" stroke-width="1.2"/>
<line x1="143.9" y1="301.8" x2="143.9" y2="299.2" stroke="#000" stroke-width="1.2"/>
<line x1="182.7" y1="301.8" x2="182.7" y2="297.0" stroke="#000" stroke-width="1.2"/>
<line x1="221.5" y1="301.8" x2="221.5" y2="299.2" stroke="#000" stroke-width="1.2"/>
<line x1="260.3" y1="301.8" x2="260.3" y2="297.0" stroke="#000" stroke-width="1.2"/>
<line x1="299.1" y1="301.8" x2="299.1" y2="299.2" stroke="#000" stroke-width="1.2"/>
<line x1="337.9" y1="301.8" x2="337.9" y2="297.0" stroke="#000" stroke-width="1.2"/>
<line x1="342.1" y1="220.7" x2="342.1" y2="163" stroke="#000" stroke-width="1.5"/>
<polygon points="342.1,158.5 339.4,165.5 344.8,165.5" fill="#000"/>
<line x1="342.1" y1="287.8" x2="342.1" y2="230" stroke="#ff0000" stroke-width="1.5"/>
<polygon points="342.1,225.3 339.4,232.3 344.8,232.3" fill="#ff0000"/>
<defs><clipPath id="cclip"><rect x="425" y="117.3" width="240" height="193"/></clipPath></defs>
<g clip-path="url(#cclip)">
<polyline points="425.0,119.2 455.0,120.6 485.0,135.1 515.0,176.2 545.0,263.4 575.0,214.0 605.0,135.1 635.0,125.0 665.0,120.4" fill="none" stroke="#444" stroke-width="1.0"/>
<line x1="425" y1="118.2" x2="425" y2="120.2" stroke="#4a4a4a" stroke-width="1"/>
<line x1="419.1" y1="118.2" x2="430.9" y2="118.2" stroke="#4a4a4a" stroke-width="1.1"/>
<line x1="419.1" y1="120.2" x2="430.9" y2="120.2" stroke="#4a4a4a" stroke-width="1.1"/>
<rect x="422.2" y="116.4" width="5.6" height="5.6" fill="#4a4a4a"/>
<line x1="455" y1="118.5" x2="455" y2="122.7" stroke="#4a4a4a" stroke-width="1"/>
<line x1="449.1" y1="118.5" x2="460.9" y2="118.5" stroke="#4a4a4a" stroke-width="1.1"/>
<line x1="449.1" y1="122.7" x2="460.9" y2="122.7" stroke="#4a4a4a" stroke-width="1.1"/>
<rect x="452.2" y="117.8" width="5.6" height="5.6" fill="#4a4a4a"/>
<line x1="485" y1="133.2" x2="485" y2="137.0" stroke="#4a4a4a" stroke-width="1"/>
<line x1="479.1" y1="133.2" x2="490.9" y2="133.2" stroke="#4a4a4a" stroke-width="1.1"/>
<line x1="479.1" y1="137.0" x2="490.9" y2="137.0" stroke="#4a4a4a" stroke-width="1.1"/>
<rect x="482.2" y="132.3" width="5.6" height="5.6" fill="#4a4a4a"/>
<line x1="515" y1="171.0" x2="515" y2="181.4" stroke="#4a4a4a" stroke-width="1"/>
<line x1="509.1" y1="171.0" x2="520.9" y2="171.0" stroke="#4a4a4a" stroke-width="1.1"/>
<line x1="509.1" y1="181.4" x2="520.9" y2="181.4" stroke="#4a4a4a" stroke-width="1.1"/>
<rect x="512.2" y="173.4" width="5.6" height="5.6" fill="#4a4a4a"/>
<line x1="545" y1="261.4" x2="545" y2="265.5" stroke="#4a4a4a" stroke-width="1"/>
<line x1="539.1" y1="261.4" x2="550.9" y2="261.4" stroke="#4a4a4a" stroke-width="1.1"/>
<line x1="539.1" y1="265.5" x2="550.9" y2="265.5" stroke="#4a4a4a" stroke-width="1.1"/>
<rect x="542.2" y="260.6" width="5.6" height="5.6" fill="#4a4a4a"/>
<line x1="575" y1="209.8" x2="575" y2="218.2" stroke="#4a4a4a" stroke-width="1"/>
<line x1="569.1" y1="209.8" x2="580.9" y2="209.8" stroke="#4a4a4a" stroke-width="1.1"/>
<line x1="569.1" y1="218.2" x2="580.9" y2="218.2" stroke="#4a4a4a" stroke-width="1.1"/>
<rect x="572.2" y="211.2" width="5.6" height="5.6" fill="#4a4a4a"/>
<line x1="605" y1="131.1" x2="605" y2="139.1" stroke="#4a4a4a" stroke-width="1"/>
<line x1="599.1" y1="131.1" x2="610.9" y2="131.1" stroke="#4a4a4a" stroke-width="1.1"/>
<line x1="599.1" y1="139.1" x2="610.9" y2="139.1" stroke="#4a4a4a" stroke-width="1.1"/>
<rect x="602.2" y="132.3" width="5.6" height="5.6" fill="#4a4a4a"/>
<line x1="635" y1="123.1" x2="635" y2="126.9" stroke="#4a4a4a" stroke-width="1"/>
<line x1="629.1" y1="123.1" x2="640.9" y2="123.1" stroke="#4a4a4a" stroke-width="1.1"/>
<line x1="629.1" y1="126.9" x2="640.9" y2="126.9" stroke="#4a4a4a" stroke-width="1.1"/>
<rect x="632.2" y="122.2" width="5.6" height="5.6" fill="#4a4a4a"/>
<line x1="665" y1="119.6" x2="665" y2="121.2" stroke="#4a4a4a" stroke-width="1"/>
<line x1="659.1" y1="119.6" x2="670.9" y2="119.6" stroke="#4a4a4a" stroke-width="1.1"/>
<line x1="659.1" y1="121.2" x2="670.9" y2="121.2" stroke="#4a4a4a" stroke-width="1.1"/>
<rect x="662.2" y="117.6" width="5.6" height="5.6" fill="#4a4a4a"/>
<polyline points="425.0,308.4 455.0,307.0 485.0,292.9 515.0,251.6 545.0,164.6 575.0,213.4 605.0,292.9 635.0,303.5 665.0,308.4" fill="none" stroke="#f04040" stroke-width="1.0"/>
<line x1="425" y1="307.9" x2="425" y2="308.9" stroke="#f03a3a" stroke-width="1"/>
<line x1="419.1" y1="307.9" x2="430.9" y2="307.9" stroke="#f03a3a" stroke-width="1.1"/>
<line x1="419.1" y1="308.9" x2="430.9" y2="308.9" stroke="#f03a3a" stroke-width="1.1"/>
<rect x="422.2" y="305.6" width="5.6" height="5.6" fill="#f03a3a"/>
<line x1="455" y1="306.2" x2="455" y2="307.8" stroke="#f03a3a" stroke-width="1"/>
<line x1="449.1" y1="306.2" x2="460.9" y2="306.2" stroke="#f03a3a" stroke-width="1.1"/>
<line x1="449.1" y1="307.8" x2="460.9" y2="307.8" stroke="#f03a3a" stroke-width="1.1"/>
<rect x="452.2" y="304.2" width="5.6" height="5.6" fill="#f03a3a"/>
<line x1="485" y1="292.5" x2="485" y2="293.3" stroke="#f03a3a" stroke-width="1"/>
<line x1="479.1" y1="292.5" x2="490.9" y2="292.5" stroke="#f03a3a" stroke-width="1.1"/>
<line x1="479.1" y1="293.3" x2="490.9" y2="293.3" stroke="#f03a3a" stroke-width="1.1"/>
<rect x="482.2" y="290.1" width="5.6" height="5.6" fill="#f03a3a"/>
<line x1="515" y1="250.1" x2="515" y2="253.1" stroke="#f03a3a" stroke-width="1"/>
<line x1="509.1" y1="250.1" x2="520.9" y2="250.1" stroke="#f03a3a" stroke-width="1.1"/>
<line x1="509.1" y1="253.1" x2="520.9" y2="253.1" stroke="#f03a3a" stroke-width="1.1"/>
<rect x="512.2" y="248.8" width="5.6" height="5.6" fill="#f03a3a"/>
<line x1="545" y1="161.9" x2="545" y2="167.2" stroke="#f03a3a" stroke-width="1"/>
<line x1="539.1" y1="161.9" x2="550.9" y2="161.9" stroke="#f03a3a" stroke-width="1.1"/>
<line x1="539.1" y1="167.2" x2="550.9" y2="167.2" stroke="#f03a3a" stroke-width="1.1"/>
<rect x="542.2" y="161.8" width="5.6" height="5.6" fill="#f03a3a"/>
<line x1="575" y1="211.4" x2="575" y2="215.4" stroke="#f03a3a" stroke-width="1"/>
<line x1="569.1" y1="211.4" x2="580.9" y2="211.4" stroke="#f03a3a" stroke-width="1.1"/>
<line x1="569.1" y1="215.4" x2="580.9" y2="215.4" stroke="#f03a3a" stroke-width="1.1"/>
<rect x="572.2" y="210.6" width="5.6" height="5.6" fill="#f03a3a"/>
<line x1="605" y1="292.5" x2="605" y2="293.3" stroke="#f03a3a" stroke-width="1"/>
<line x1="599.1" y1="292.5" x2="610.9" y2="292.5" stroke="#f03a3a" stroke-width="1.1"/>
<line x1="599.1" y1="293.3" x2="610.9" y2="293.3" stroke="#f03a3a" stroke-width="1.1"/>
<rect x="602.2" y="290.1" width="5.6" height="5.6" fill="#f03a3a"/>
<line x1="635" y1="302.7" x2="635" y2="304.3" stroke="#f03a3a" stroke-width="1"/>
<line x1="629.1" y1="302.7" x2="640.9" y2="302.7" stroke="#f03a3a" stroke-width="1.1"/>
<line x1="629.1" y1="304.3" x2="640.9" y2="304.3" stroke="#f03a3a" stroke-width="1.1"/>
<rect x="632.2" y="300.7" width="5.6" height="5.6" fill="#f03a3a"/>
<line x1="665" y1="307.9" x2="665" y2="308.9" stroke="#f03a3a" stroke-width="1"/>
<line x1="659.1" y1="307.9" x2="670.9" y2="307.9" stroke="#f03a3a" stroke-width="1.1"/>
<line x1="659.1" y1="308.9" x2="670.9" y2="308.9" stroke="#f03a3a" stroke-width="1.1"/>
<rect x="662.2" y="305.6" width="5.6" height="5.6" fill="#f03a3a"/>
</g>
<rect x="425" y="117.3" width="240" height="193" fill="none" stroke="#000" stroke-width="1.5"/>
<line x1="421.3" y1="310.3" x2="425" y2="310.3" stroke="#000" stroke-width="1.2"/>
<line x1="423.2" y1="291.0" x2="425" y2="291.0" stroke="#000" stroke-width="1.2"/>
<line x1="421.3" y1="271.7" x2="425" y2="271.7" stroke="#000" stroke-width="1.2"/>
<line x1="423.2" y1="252.4" x2="425" y2="252.4" stroke="#000" stroke-width="1.2"/>
<line x1="421.3" y1="233.1" x2="425" y2="233.1" stroke="#000" stroke-width="1.2"/>
<line x1="423.2" y1="213.8" x2="425" y2="213.8" stroke="#000" stroke-width="1.2"/>
<line x1="421.3" y1="194.5" x2="425" y2="194.5" stroke="#000" stroke-width="1.2"/>
<line x1="423.2" y1="175.2" x2="425" y2="175.2" stroke="#000" stroke-width="1.2"/>
<line x1="421.3" y1="155.9" x2="425" y2="155.9" stroke="#000" stroke-width="1.2"/>
<line x1="423.2" y1="136.6" x2="425" y2="136.6" stroke="#000" stroke-width="1.2"/>
<line x1="421.3" y1="117.3" x2="425" y2="117.3" stroke="#000" stroke-width="1.2"/>
<line x1="425" y1="310.3" x2="425" y2="307.3" stroke="#000" stroke-width="1.2"/>
<line x1="440" y1="310.3" x2="440" y2="308.6" stroke="#000" stroke-width="1.2"/>
<line x1="455" y1="310.3" x2="455" y2="307.3" stroke="#000" stroke-width="1.2"/>
<line x1="470" y1="310.3" x2="470" y2="308.6" stroke="#000" stroke-width="1.2"/>
<line x1="485" y1="310.3" x2="485" y2="307.3" stroke="#000" stroke-width="1.2"/>
<line x1="500" y1="310.3" x2="500" y2="308.6" stroke="#000" stroke-width="1.2"/>
<line x1="515" y1="310.3" x2="515" y2="307.3" stroke="#000" stroke-width="1.2"/>
<line x1="530" y1="310.3" x2="530" y2="308.6" stroke="#000" stroke-width="1.2"/>
<line x1="545" y1="310.3" x2="545" y2="307.3" stroke="#000" stroke-width="1.2"/>
<line x1="560" y1="310.3" x2="560" y2="308.6" stroke="#000" stroke-width="1.2"/>
<line x1="575" y1="310.3" x2="575" y2="307.3" stroke="#000" stroke-width="1.2"/>
<line x1="590" y1="310.3" x2="590" y2="308.6" stroke="#000" stroke-width="1.2"/>
<line x1="605" y1="310.3" x2="605" y2="307.3" stroke="#000" stroke-width="1.2"/>
<line x1="620" y1="310.3" x2="620" y2="308.6" stroke="#000" stroke-width="1.2"/>
<line x1="635" y1="310.3" x2="635" y2="307.3" stroke="#000" stroke-width="1.2"/>
<line x1="650" y1="310.3" x2="650" y2="308.6" stroke="#000" stroke-width="1.2"/>
<line x1="665" y1="310.3" x2="665" y2="307.3" stroke="#000" stroke-width="1.2"/>
<line x1="440.2" y1="215" x2="496" y2="215" stroke="#000" stroke-width="1.4"/>
<polyline points="489.8,211.6 496.6,215 489.8,218.4" fill="none" stroke="#000" stroke-width="1.4"/>
<line x1="588.9" y1="215" x2="653.5" y2="215" stroke="#000" stroke-width="1.4"/>
<polyline points="647,211.6 653.8,215 647,218.4" fill="none" stroke="#000" stroke-width="1.4"/>
<g style="will-change:transform"><text x="4.56" y="16.50" textLength="9.40" lengthAdjust="spacingAndGlyphs" fill="#000" style="font-family:'Liberation Sans', sans-serif;font-weight:bold;font-size:18.33px">a</text>
<text x="3.42" y="125.70" textLength="11.02" lengthAdjust="spacingAndGlyphs" fill="#000" style="font-family:'Liberation Sans', sans-serif;font-weight:bold;font-size:17.67px">b</text>
<text x="369.54" y="122.80" textLength="10.46" lengthAdjust="spacingAndGlyphs" fill="#000" style="font-family:'Liberation Sans', sans-serif;font-weight:bold;font-size:17.96px">c</text>
<text x="24.11" y="9.10" textLength="51.29" lengthAdjust="spacingAndGlyphs" fill="#ff0000" style="font-family:'Liberation Sans', sans-serif;font-weight:bold;font-size:13.00px">Loading</text>
<text x="371.01" y="11.10" textLength="64.29" lengthAdjust="spacingAndGlyphs" fill="#000" style="font-family:'Liberation Sans', sans-serif;font-weight:bold;font-size:12.33px">Unloading</text>
<text x="28.51" y="101.50" textLength="25.37" lengthAdjust="spacingAndGlyphs" fill="#fff" style="font-family:'Liberation Sans', sans-serif;font-weight:bold;font-size:8.57px">2 mm</text>
<text x="668.86" y="39.20" textLength="15.85" lengthAdjust="spacingAndGlyphs" fill="#000" style="font-family:'Liberation Sans', sans-serif;font-weight:bold;font-size:10.71px">7%</text>
<text x="668.67" y="107.70" textLength="15.94" lengthAdjust="spacingAndGlyphs" fill="#000" style="font-family:'Liberation Sans', sans-serif;font-weight:bold;font-size:11.43px">0%</text>
<text x="28.85" y="159.54" textLength="25.12" lengthAdjust="spacingAndGlyphs" fill="#ee1111" style="font-family:'Liberation Sans', sans-serif;font-weight:normal;font-size:10.74px;stroke:#ee1111;stroke-width:0.3px">(022)</text>
<text x="54.40" y="162.75" textLength="14.73" lengthAdjust="spacingAndGlyphs" fill="#ee1111" style="font-family:'Liberation Sans', sans-serif;font-weight:normal;font-size:8.07px;stroke:#ee1111;stroke-width:0.3px">B19′</text>
<text x="66.33" y="151.42" textLength="26.17" lengthAdjust="spacingAndGlyphs" fill="#1515ee" style="font-family:'Liberation Sans', sans-serif;font-weight:normal;font-size:9.89px;stroke:#1515ee;stroke-width:0.3px">(044)</text>
<text x="93.36" y="154.80" textLength="25.99" lengthAdjust="spacingAndGlyphs" fill="#1515ee" style="font-family:'Liberation Sans', sans-serif;font-weight:normal;font-size:7.81px;stroke:#1515ee;stroke-width:0.3px">Ti4Ni2O</text>
<text x="135.22" y="129.66" textLength="25.68" lengthAdjust="spacingAndGlyphs" fill="#222" style="font-family:'Liberation Sans', sans-serif;font-weight:normal;font-size:10.21px;stroke:#222;stroke-width:0.3px">(110)</text>
<text x="161.08" y="132.60" textLength="9.48" lengthAdjust="spacingAndGlyphs" fill="#222" style="font-family:'Liberation Sans', sans-serif;font-weight:normal;font-size:7.29px;stroke:#222;stroke-width:0.3px">B2</text>
<text x="145.02" y="156.61" textLength="25.79" lengthAdjust="spacingAndGlyphs" fill="#ee1111" style="font-family:'Liberation Sans', sans-serif;font-weight:normal;font-size:10.43px;stroke:#ee1111;stroke-width:0.3px">(110)</text>
<text x="170.69" y="159.60" textLength="15.05" lengthAdjust="spacingAndGlyphs" fill="#ee1111" style="font-family:'Liberation Sans', sans-serif;font-weight:normal;font-size:8.00px;stroke:#ee1111;stroke-width:0.3px">B19′</text>
<text x="216.95" y="155.71" textLength="25.43" lengthAdjust="spacingAndGlyphs" fill="#ee1111" style="font-family:'Liberation Sans', sans-serif;font-weight:normal;font-size:10.43px;stroke:#ee1111;stroke-width:0.3px">(100)</text>
<text x="242.49" y="158.70" textLength="15.05" lengthAdjust="spacingAndGlyphs" fill="#ee1111" style="font-family:'Liberation Sans', sans-serif;font-weight:normal;font-size:8.00px;stroke:#ee1111;stroke-width:0.3px">B19′</text>
<text x="257.38" y="140.86" textLength="24.17" lengthAdjust="spacingAndGlyphs" fill="#222" style="font-family:'Liberation Sans', sans-serif;font-weight:normal;font-size:10.21px;stroke:#222;stroke-width:0.3px">(100)</text>
<text x="282.67" y="142.75" textLength="9.70" lengthAdjust="spacingAndGlyphs" fill="#222" style="font-family:'Liberation Sans', sans-serif;font-weight:normal;font-size:6.64px;stroke:#222;stroke-width:0.3px">B2</text>
<text x="298.83" y="157.00" textLength="35.80" lengthAdjust="spacingAndGlyphs" fill="#000" style="font-family:'Liberation Sans', sans-serif;font-weight:bold;font-size:11.29px">0 MPa</text>
<text x="307.55" y="172.70" textLength="20.70" lengthAdjust="spacingAndGlyphs" fill="#000" style="font-family:'Liberation Sans', sans-serif;font-weight:bold;font-size:11.29px">300</text>
<text x="307.43" y="187.85" textLength="20.83" lengthAdjust="spacingAndGlyphs" fill="#000" style="font-family:'Liberation Sans', sans-serif;font-weight:bold;font-size:11.29px">500</text>
<text x="307.30" y="203.00" textLength="20.96" lengthAdjust="spacingAndGlyphs" fill="#000" style="font-family:'Liberation Sans', sans-serif;font-weight:bold;font-size:11.29px">700</text>
<text x="307.43" y="218.15" textLength="20.83" lengthAdjust="spacingAndGlyphs" fill="#000" style="font-family:'Liberation Sans', sans-serif;font-weight:bold;font-size:11.29px">900</text>
<text x="307.30" y="233.30" textLength="20.96" lengthAdjust="spacingAndGlyphs" fill="#000" style="font-family:'Liberation Sans', sans-serif;font-weight:bold;font-size:11.29px">700</text>
<text x="307.43" y="248.45" textLength="20.83" lengthAdjust="spacingAndGlyphs" fill="#000" style="font-family:'Liberation Sans', sans-serif;font-weight:bold;font-size:11.29px">500</text>
<text x="307.55" y="263.60" textLength="20.70" lengthAdjust="spacingAndGlyphs" fill="#000" style="font-family:'Liberation Sans', sans-serif;font-weight:bold;font-size:11.29px">300</text>
<text x="314.18" y="280.00" textLength="7.72" lengthAdjust="spacingAndGlyphs" fill="#000" style="font-family:'Liberation Sans', sans-serif;font-weight:bold;font-size:11.29px">0</text>
<text x="18.61" y="316.80" textLength="18.34" lengthAdjust="spacingAndGlyphs" fill="#000" style="font-family:'Liberation Sans', sans-serif;font-weight:bold;font-size:11.16px">1.5</text>
<text x="96.44" y="316.80" textLength="16.48" lengthAdjust="spacingAndGlyphs" fill="#000" style="font-family:'Liberation Sans', sans-serif;font-weight:bold;font-size:11.00px">2.0</text>
<text x="173.40" y="316.80" textLength="18.65" lengthAdjust="spacingAndGlyphs" fill="#000" style="font-family:'Liberation Sans', sans-serif;font-weight:bold;font-size:11.00px">2.5</text>
<text x="252.05" y="316.80" textLength="17.51" lengthAdjust="spacingAndGlyphs" fill="#000" style="font-family:'Liberation Sans', sans-serif;font-weight:bold;font-size:11.00px">3.0</text>
<text x="329.45" y="316.80" textLength="17.58" lengthAdjust="spacingAndGlyphs" fill="#000" style="font-family:'Liberation Sans', sans-serif;font-weight:bold;font-size:11.00px">3.5</text>
<text x="135.44" y="336.00" textLength="105.98" lengthAdjust="spacingAndGlyphs" fill="#000" style="font-family:'Liberation Sans', sans-serif;font-weight:bold;font-size:15.80px">d-spacing (Å)</text>
<text transform="translate(15.70,243.70) rotate(-90)" x="-0.92" y="0" textLength="62.96" lengthAdjust="spacingAndGlyphs" fill="#000" style="font-family:'Liberation Sans', sans-serif;font-weight:bold;font-size:14.66px">Intensity</text>
<text transform="translate(353.20,217.00) rotate(-90)" x="-0.66" y="0" textLength="53.93" lengthAdjust="spacingAndGlyphs" fill="#000" style="font-family:'Liberation Sans', sans-serif;font-weight:bold;font-size:10.00px">Unloading</text>
<text transform="translate(352.60,281.30) rotate(-90)" x="-0.68" y="0" textLength="44.38" lengthAdjust="spacingAndGlyphs" fill="#ff0000" style="font-family:'Liberation Sans', sans-serif;font-weight:bold;font-size:10.00px">Loading</text>
<text x="398.91" y="120.90" textLength="19.31" lengthAdjust="spacingAndGlyphs" fill="#000" style="font-family:'Liberation Sans', sans-serif;font-weight:bold;font-size:10.29px">100</text>
<text x="405.35" y="159.50" textLength="12.87" lengthAdjust="spacingAndGlyphs" fill="#000" style="font-family:'Liberation Sans', sans-serif;font-weight:bold;font-size:10.29px">80</text>
<text x="405.35" y="198.10" textLength="12.87" lengthAdjust="spacingAndGlyphs" fill="#000" style="font-family:'Liberation Sans', sans-serif;font-weight:bold;font-size:10.29px">60</text>
<text x="405.59" y="236.70" textLength="12.62" lengthAdjust="spacingAndGlyphs" fill="#000" style="font-family:'Liberation Sans', sans-serif;font-weight:bold;font-size:10.29px">40</text>
<text x="405.35" y="275.30" textLength="12.87" lengthAdjust="spacingAndGlyphs" fill="#000" style="font-family:'Liberation Sans', sans-serif;font-weight:bold;font-size:10.29px">20</text>
<text x="411.11" y="313.90" textLength="7.15" lengthAdjust="spacingAndGlyphs" fill="#000" style="font-family:'Liberation Sans', sans-serif;font-weight:bold;font-size:10.29px">0</text>
<text x="421.74" y="323.80" textLength="6.58" lengthAdjust="spacingAndGlyphs" fill="#000" style="font-family:'Liberation Sans', sans-serif;font-weight:bold;font-size:10.86px">0</text>
<text x="445.57" y="323.80" textLength="19.04" lengthAdjust="spacingAndGlyphs" fill="#000" style="font-family:'Liberation Sans', sans-serif;font-weight:bold;font-size:10.86px">300</text>
<text x="475.46" y="323.80" textLength="19.16" lengthAdjust="spacingAndGlyphs" fill="#000" style="font-family:'Liberation Sans', sans-serif;font-weight:bold;font-size:10.86px">500</text>
<text x="505.34" y="323.80" textLength="19.28" lengthAdjust="spacingAndGlyphs" fill="#000" style="font-family:'Liberation Sans', sans-serif;font-weight:bold;font-size:10.86px">700</text>
<text x="535.46" y="323.80" textLength="19.16" lengthAdjust="spacingAndGlyphs" fill="#000" style="font-family:'Liberation Sans', sans-serif;font-weight:bold;font-size:10.86px">900</text>
<text x="565.34" y="323.80" textLength="19.28" lengthAdjust="spacingAndGlyphs" fill="#000" style="font-family:'Liberation Sans', sans-serif;font-weight:bold;font-size:10.86px">700</text>
<text x="595.46" y="323.80" textLength="19.16" lengthAdjust="spacingAndGlyphs" fill="#000" style="font-family:'Liberation Sans', sans-serif;font-weight:bold;font-size:10.86px">500</text>
<text x="625.57" y="323.80" textLength="19.04" lengthAdjust="spacingAndGlyphs" fill="#000" style="font-family:'Liberation Sans', sans-serif;font-weight:bold;font-size:10.86px">300</text>
<text x="661.74" y="323.80" textLength="6.58" lengthAdjust="spacingAndGlyphs" fill="#000" style="font-family:'Liberation Sans', sans-serif;font-weight:bold;font-size:10.86px">0</text>
<text x="514.04" y="339.70" textLength="78.52" lengthAdjust="spacingAndGlyphs" fill="#000" style="font-family:'Liberation Sans', sans-serif;font-weight:bold;font-size:11.10px">Stress (MPa)</text>
<text transform="translate(394.40,277.70) rotate(-90)" x="-0.77" y="0" textLength="129.73" lengthAdjust="spacingAndGlyphs" fill="#000" style="font-family:'Liberation Sans', sans-serif;font-weight:bold;font-size:13.56px">Relative Intensity (%)</text>
<text x="444.02" y="207.70" textLength="43.86" lengthAdjust="spacingAndGlyphs" fill="#000" style="font-family:'Liberation Sans', sans-serif;font-weight:bold;font-size:10.27px">Loading</text>
<text x="591.13" y="208.40" textLength="54.55" lengthAdjust="spacingAndGlyphs" fill="#000" style="font-family:'Liberation Sans', sans-serif;font-weight:bold;font-size:9.86px">Unloading</text>
<text x="433.11" y="138.90" textLength="21.86" lengthAdjust="spacingAndGlyphs" fill="#555" style="font-family:'Liberation Sans', sans-serif;font-weight:bold;font-size:13.14px">100</text>
<text x="454.87" y="141.70" textLength="11.25" lengthAdjust="spacingAndGlyphs" fill="#555" style="font-family:'Liberation Sans', sans-serif;font-weight:bold;font-size:8.43px">B2</text>
<text x="428.92" y="293.10" textLength="21.75" lengthAdjust="spacingAndGlyphs" fill="#ff1a1a" style="font-family:'Liberation Sans', sans-serif;font-weight:bold;font-size:13.00px">100</text>
<text x="450.35" y="295.90" textLength="18.94" lengthAdjust="spacingAndGlyphs" fill="#ff1a1a" style="font-family:'Liberation Sans', sans-serif;font-weight:bold;font-size:8.14px">B19′</text></g>
</svg></body></html>
